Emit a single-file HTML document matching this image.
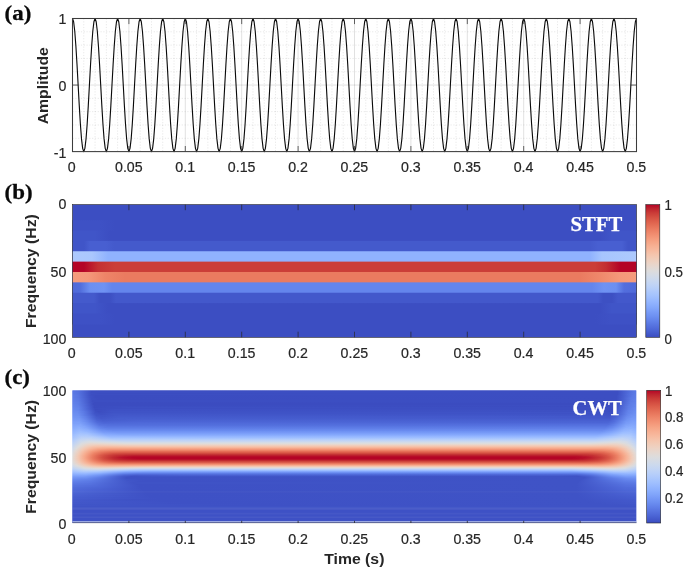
<!DOCTYPE html>
<html><head><meta charset="utf-8"><title>Signal, STFT and CWT</title>
<style>html,body{margin:0;padding:0;background:#fff}svg{display:block}</style></head>
<body><svg width="685" height="570" viewBox="0 0 685 570">
<defs><linearGradient id="b2" gradientUnits="userSpaceOnUse" x1="72.5" x2="636.5" y1="0" y2="0"><stop offset="0.0000" stop-color="#3e51c5"/><stop offset="0.0488" stop-color="#3e51c5"/><stop offset="0.0754" stop-color="#3c4ec2"/><stop offset="0.9264" stop-color="#3c4ec2"/><stop offset="0.9530" stop-color="#3e51c5"/><stop offset="0.9991" stop-color="#3e51c5"/></linearGradient><linearGradient id="b3" gradientUnits="userSpaceOnUse" x1="72.5" x2="636.5" y1="0" y2="0"><stop offset="0.0000" stop-color="#4055c8"/><stop offset="0.0399" stop-color="#4055c8"/><stop offset="0.0665" stop-color="#3c4ec2"/><stop offset="0.9353" stop-color="#3c4ec2"/><stop offset="0.9566" stop-color="#4055c8"/><stop offset="0.9991" stop-color="#4055c8"/></linearGradient><linearGradient id="b4" gradientUnits="userSpaceOnUse" x1="72.5" x2="636.5" y1="0" y2="0"><stop offset="0.0000" stop-color="#4055c8"/><stop offset="0.0204" stop-color="#4055c8"/><stop offset="0.0310" stop-color="#485fd1"/><stop offset="0.0594" stop-color="#485fd1"/><stop offset="0.0736" stop-color="#445acc"/><stop offset="0.9176" stop-color="#445acc"/><stop offset="0.9317" stop-color="#485fd1"/><stop offset="0.9743" stop-color="#485fd1"/><stop offset="0.9849" stop-color="#4055c8"/><stop offset="0.9991" stop-color="#4055c8"/></linearGradient><linearGradient id="b5" gradientUnits="userSpaceOnUse" x1="72.5" x2="636.5" y1="0" y2="0"><stop offset="0.0000" stop-color="#adc9fd"/><stop offset="0.0346" stop-color="#aac7fd"/><stop offset="0.0629" stop-color="#90b2fe"/><stop offset="0.9176" stop-color="#90b2fe"/><stop offset="0.9388" stop-color="#a7c5fe"/><stop offset="0.9991" stop-color="#adc9fd"/></linearGradient><linearGradient id="b6" gradientUnits="userSpaceOnUse" x1="72.5" x2="636.5" y1="0" y2="0"><stop offset="0.0000" stop-color="#b40426"/><stop offset="0.0204" stop-color="#b40426"/><stop offset="0.0452" stop-color="#c43032"/><stop offset="0.0754" stop-color="#cb3e38"/><stop offset="0.9264" stop-color="#cb3e38"/><stop offset="0.9459" stop-color="#c32e31"/><stop offset="0.9707" stop-color="#b40426"/><stop offset="0.9991" stop-color="#b40426"/></linearGradient><linearGradient id="b7" gradientUnits="userSpaceOnUse" x1="72.5" x2="636.5" y1="0" y2="0"><stop offset="0.0000" stop-color="#f59c7d"/><stop offset="0.0275" stop-color="#f4987a"/><stop offset="0.0576" stop-color="#ee8468"/><stop offset="0.0931" stop-color="#ea7b60"/><stop offset="0.8998" stop-color="#ea7b60"/><stop offset="0.9353" stop-color="#ef886b"/><stop offset="0.9707" stop-color="#f4987a"/><stop offset="0.9991" stop-color="#f59c7d"/></linearGradient><linearGradient id="b8" gradientUnits="userSpaceOnUse" x1="72.5" x2="636.5" y1="0" y2="0"><stop offset="0.0000" stop-color="#4f69d9"/><stop offset="0.0133" stop-color="#516ddb"/><stop offset="0.0310" stop-color="#6c8ff1"/><stop offset="0.0559" stop-color="#6f92f3"/><stop offset="0.0700" stop-color="#6485ec"/><stop offset="0.9211" stop-color="#6485ec"/><stop offset="0.9424" stop-color="#6f92f3"/><stop offset="0.9637" stop-color="#6c8ff1"/><stop offset="0.9778" stop-color="#536edd"/><stop offset="0.9991" stop-color="#4f69d9"/></linearGradient><linearGradient id="b9" gradientUnits="userSpaceOnUse" x1="72.5" x2="636.5" y1="0" y2="0"><stop offset="0.0000" stop-color="#445acc"/><stop offset="0.0381" stop-color="#445acc"/><stop offset="0.0488" stop-color="#3d50c3"/><stop offset="0.0665" stop-color="#3d50c3"/><stop offset="0.0771" stop-color="#4358cb"/><stop offset="0.9317" stop-color="#4358cb"/><stop offset="0.9406" stop-color="#3d50c3"/><stop offset="0.9566" stop-color="#3d50c3"/><stop offset="0.9672" stop-color="#4358cb"/><stop offset="0.9991" stop-color="#4358cb"/></linearGradient><linearGradient id="b10" gradientUnits="userSpaceOnUse" x1="72.5" x2="636.5" y1="0" y2="0"><stop offset="0.0000" stop-color="#4055c8"/><stop offset="0.0399" stop-color="#4055c8"/><stop offset="0.0629" stop-color="#3c4ec2"/><stop offset="0.9353" stop-color="#3c4ec2"/><stop offset="0.9566" stop-color="#4055c8"/><stop offset="0.9991" stop-color="#4055c8"/></linearGradient><linearGradient id="b11" gradientUnits="userSpaceOnUse" x1="72.5" x2="636.5" y1="0" y2="0"><stop offset="0.0000" stop-color="#3e51c5"/><stop offset="0.0488" stop-color="#3e51c5"/><stop offset="0.0754" stop-color="#3c4ec2"/><stop offset="0.9264" stop-color="#3c4ec2"/><stop offset="0.9530" stop-color="#3e51c5"/><stop offset="0.9991" stop-color="#3e51c5"/></linearGradient><linearGradient id="cb" x1="0" x2="0" y1="1" y2="0"><stop offset="0.000" stop-color="#3b4cc0"/><stop offset="0.031" stop-color="#445acc"/><stop offset="0.062" stop-color="#4e68d8"/><stop offset="0.094" stop-color="#5875e1"/><stop offset="0.125" stop-color="#6282ea"/><stop offset="0.156" stop-color="#6c8ff1"/><stop offset="0.188" stop-color="#779af7"/><stop offset="0.219" stop-color="#82a6fb"/><stop offset="0.250" stop-color="#8db0fe"/><stop offset="0.281" stop-color="#98b9ff"/><stop offset="0.312" stop-color="#a3c2fe"/><stop offset="0.344" stop-color="#aec9fc"/><stop offset="0.375" stop-color="#b9d0f9"/><stop offset="0.406" stop-color="#c3d5f4"/><stop offset="0.438" stop-color="#ccd9ed"/><stop offset="0.469" stop-color="#d5dbe5"/><stop offset="0.500" stop-color="#dddcdc"/><stop offset="0.531" stop-color="#e5d8d1"/><stop offset="0.562" stop-color="#ecd3c5"/><stop offset="0.594" stop-color="#f1ccb8"/><stop offset="0.625" stop-color="#f5c4ac"/><stop offset="0.656" stop-color="#f7ba9f"/><stop offset="0.688" stop-color="#f7b093"/><stop offset="0.719" stop-color="#f6a586"/><stop offset="0.750" stop-color="#f4987a"/><stop offset="0.781" stop-color="#f08b6e"/><stop offset="0.812" stop-color="#eb7d62"/><stop offset="0.844" stop-color="#e46e56"/><stop offset="0.875" stop-color="#dd5f4b"/><stop offset="0.906" stop-color="#d44e41"/><stop offset="0.938" stop-color="#ca3b37"/><stop offset="0.969" stop-color="#be242e"/><stop offset="1.000" stop-color="#b40426"/></linearGradient><linearGradient id="c0" gradientUnits="userSpaceOnUse" x1="72.5" x2="636.5" y1="0" y2="0"><stop offset="0.0000" stop-color="#5a78e4"/><stop offset="0.0089" stop-color="#5572df"/><stop offset="0.0319" stop-color="#3d50c3"/><stop offset="0.0496" stop-color="#3b4cc0"/><stop offset="0.9663" stop-color="#3c4ec2"/><stop offset="0.9787" stop-color="#485fd1"/><stop offset="0.9947" stop-color="#5977e3"/><stop offset="1.0000" stop-color="#5a78e4"/></linearGradient><linearGradient id="c1" gradientUnits="userSpaceOnUse" x1="72.5" x2="636.5" y1="0" y2="0"><stop offset="0.0000" stop-color="#5a78e4"/><stop offset="0.0124" stop-color="#536edd"/><stop offset="0.0337" stop-color="#3c4ec2"/><stop offset="0.9663" stop-color="#3c4ec2"/><stop offset="0.9823" stop-color="#4c66d6"/><stop offset="0.9947" stop-color="#5977e3"/><stop offset="1.0000" stop-color="#5a78e4"/></linearGradient><linearGradient id="c2" gradientUnits="userSpaceOnUse" x1="72.5" x2="636.5" y1="0" y2="0"><stop offset="0.0000" stop-color="#5b7ae5"/><stop offset="0.0106" stop-color="#5572df"/><stop offset="0.0337" stop-color="#3c4ec2"/><stop offset="0.9663" stop-color="#3c4ec2"/><stop offset="0.9840" stop-color="#4f69d9"/><stop offset="0.9947" stop-color="#5977e3"/><stop offset="1.0000" stop-color="#5b7ae5"/></linearGradient><linearGradient id="c3" gradientUnits="userSpaceOnUse" x1="72.5" x2="636.5" y1="0" y2="0"><stop offset="0.0000" stop-color="#5b7ae5"/><stop offset="0.0106" stop-color="#5572df"/><stop offset="0.0319" stop-color="#3d50c3"/><stop offset="0.0496" stop-color="#3b4cc0"/><stop offset="0.9663" stop-color="#3c4ec2"/><stop offset="0.9787" stop-color="#4961d2"/><stop offset="0.9929" stop-color="#5977e3"/><stop offset="1.0000" stop-color="#5b7ae5"/></linearGradient><linearGradient id="c4" gradientUnits="userSpaceOnUse" x1="72.5" x2="636.5" y1="0" y2="0"><stop offset="0.0000" stop-color="#5d7ce6"/><stop offset="0.0106" stop-color="#5673e0"/><stop offset="0.0337" stop-color="#3c4ec2"/><stop offset="0.9663" stop-color="#3c4ec2"/><stop offset="0.9840" stop-color="#506bda"/><stop offset="0.9947" stop-color="#5a78e4"/><stop offset="1.0000" stop-color="#5d7ce6"/></linearGradient><linearGradient id="c5" gradientUnits="userSpaceOnUse" x1="72.5" x2="636.5" y1="0" y2="0"><stop offset="0.0000" stop-color="#5d7ce6"/><stop offset="0.0089" stop-color="#5977e3"/><stop offset="0.0319" stop-color="#3d50c3"/><stop offset="0.0408" stop-color="#3b4cc0"/><stop offset="0.9645" stop-color="#3c4ec2"/><stop offset="0.9752" stop-color="#455cce"/><stop offset="0.9929" stop-color="#5a78e4"/><stop offset="1.0000" stop-color="#5d7ce6"/></linearGradient><linearGradient id="c6" gradientUnits="userSpaceOnUse" x1="72.5" x2="636.5" y1="0" y2="0"><stop offset="0.0000" stop-color="#5e7de7"/><stop offset="0.0106" stop-color="#5875e1"/><stop offset="0.0319" stop-color="#3e51c5"/><stop offset="0.0408" stop-color="#3b4cc0"/><stop offset="0.9645" stop-color="#3c4ec2"/><stop offset="0.9770" stop-color="#485fd1"/><stop offset="0.9929" stop-color="#5a78e4"/><stop offset="1.0000" stop-color="#5e7de7"/></linearGradient><linearGradient id="c7" gradientUnits="userSpaceOnUse" x1="72.5" x2="636.5" y1="0" y2="0"><stop offset="0.0000" stop-color="#5e7de7"/><stop offset="0.0106" stop-color="#5875e1"/><stop offset="0.0319" stop-color="#3e51c5"/><stop offset="0.0408" stop-color="#3b4cc0"/><stop offset="0.9645" stop-color="#3c4ec2"/><stop offset="0.9734" stop-color="#445acc"/><stop offset="0.9911" stop-color="#5a78e4"/><stop offset="1.0000" stop-color="#5e7de7"/></linearGradient><linearGradient id="c8" gradientUnits="userSpaceOnUse" x1="72.5" x2="636.5" y1="0" y2="0"><stop offset="0.0000" stop-color="#5f7fe8"/><stop offset="0.0106" stop-color="#5977e3"/><stop offset="0.0337" stop-color="#3d50c3"/><stop offset="0.0461" stop-color="#3b4cc0"/><stop offset="0.9645" stop-color="#3c4ec2"/><stop offset="0.9770" stop-color="#4961d2"/><stop offset="0.9894" stop-color="#5977e3"/><stop offset="1.0000" stop-color="#5f7fe8"/></linearGradient><linearGradient id="c9" gradientUnits="userSpaceOnUse" x1="72.5" x2="636.5" y1="0" y2="0"><stop offset="0.0000" stop-color="#5f7fe8"/><stop offset="0.0106" stop-color="#5a78e4"/><stop offset="0.0337" stop-color="#3d50c3"/><stop offset="0.0461" stop-color="#3b4cc0"/><stop offset="0.9645" stop-color="#3c4ec2"/><stop offset="0.9770" stop-color="#4961d2"/><stop offset="0.9929" stop-color="#5d7ce6"/><stop offset="1.0000" stop-color="#5f7fe8"/></linearGradient><linearGradient id="c10" gradientUnits="userSpaceOnUse" x1="72.5" x2="636.5" y1="0" y2="0"><stop offset="0.0000" stop-color="#6180e9"/><stop offset="0.0106" stop-color="#5a78e4"/><stop offset="0.0355" stop-color="#3c4ec2"/><stop offset="0.9645" stop-color="#3c4ec2"/><stop offset="0.9911" stop-color="#5d7ce6"/><stop offset="1.0000" stop-color="#6180e9"/></linearGradient><linearGradient id="c11" gradientUnits="userSpaceOnUse" x1="72.5" x2="636.5" y1="0" y2="0"><stop offset="0.0000" stop-color="#6180e9"/><stop offset="0.0106" stop-color="#5b7ae5"/><stop offset="0.0355" stop-color="#3c4ec2"/><stop offset="0.9645" stop-color="#3c4ec2"/><stop offset="0.9894" stop-color="#5b7ae5"/><stop offset="1.0000" stop-color="#6180e9"/></linearGradient><linearGradient id="c12" gradientUnits="userSpaceOnUse" x1="72.5" x2="636.5" y1="0" y2="0"><stop offset="0.0000" stop-color="#6282ea"/><stop offset="0.0106" stop-color="#5d7ce6"/><stop offset="0.0301" stop-color="#4257c9"/><stop offset="0.0390" stop-color="#3b4cc0"/><stop offset="0.9645" stop-color="#3c4ec2"/><stop offset="0.9894" stop-color="#5d7ce6"/><stop offset="1.0000" stop-color="#6282ea"/></linearGradient><linearGradient id="c13" gradientUnits="userSpaceOnUse" x1="72.5" x2="636.5" y1="0" y2="0"><stop offset="0.0000" stop-color="#6282ea"/><stop offset="0.0106" stop-color="#5d7ce6"/><stop offset="0.0372" stop-color="#3b4cc0"/><stop offset="0.9628" stop-color="#3b4cc0"/><stop offset="0.9911" stop-color="#5f7fe8"/><stop offset="1.0000" stop-color="#6282ea"/></linearGradient><linearGradient id="c14" gradientUnits="userSpaceOnUse" x1="72.5" x2="636.5" y1="0" y2="0"><stop offset="0.0000" stop-color="#6384eb"/><stop offset="0.0089" stop-color="#5f7fe8"/><stop offset="0.0213" stop-color="#506bda"/><stop offset="0.0372" stop-color="#3b4cc0"/><stop offset="0.9628" stop-color="#3b4cc0"/><stop offset="0.9876" stop-color="#5d7ce6"/><stop offset="0.9982" stop-color="#6384eb"/><stop offset="1.0000" stop-color="#6384eb"/></linearGradient><linearGradient id="c15" gradientUnits="userSpaceOnUse" x1="72.5" x2="636.5" y1="0" y2="0"><stop offset="0.0000" stop-color="#6485ec"/><stop offset="0.0106" stop-color="#5f7fe8"/><stop offset="0.0301" stop-color="#445acc"/><stop offset="0.0390" stop-color="#3b4cc0"/><stop offset="0.9628" stop-color="#3c4ec2"/><stop offset="0.9876" stop-color="#5d7ce6"/><stop offset="0.9982" stop-color="#6485ec"/><stop offset="1.0000" stop-color="#6485ec"/></linearGradient><linearGradient id="c16" gradientUnits="userSpaceOnUse" x1="72.5" x2="636.5" y1="0" y2="0"><stop offset="0.0000" stop-color="#6485ec"/><stop offset="0.0106" stop-color="#6180e9"/><stop offset="0.0284" stop-color="#485fd1"/><stop offset="0.0390" stop-color="#3b4cc0"/><stop offset="0.0762" stop-color="#3c4ec2"/><stop offset="0.9486" stop-color="#3b4cc0"/><stop offset="0.9628" stop-color="#3c4ec2"/><stop offset="0.9858" stop-color="#5d7ce6"/><stop offset="0.9982" stop-color="#6485ec"/><stop offset="1.0000" stop-color="#6485ec"/></linearGradient><linearGradient id="c17" gradientUnits="userSpaceOnUse" x1="72.5" x2="636.5" y1="0" y2="0"><stop offset="0.0000" stop-color="#6687ed"/><stop offset="0.0106" stop-color="#6282ea"/><stop offset="0.0266" stop-color="#4b64d5"/><stop offset="0.0390" stop-color="#3b4cc0"/><stop offset="0.1011" stop-color="#3d50c3"/><stop offset="0.9486" stop-color="#3c4ec2"/><stop offset="0.9610" stop-color="#3b4cc0"/><stop offset="0.9858" stop-color="#5d7ce6"/><stop offset="0.9965" stop-color="#6687ed"/><stop offset="1.0000" stop-color="#6687ed"/></linearGradient><linearGradient id="c18" gradientUnits="userSpaceOnUse" x1="72.5" x2="636.5" y1="0" y2="0"><stop offset="0.0000" stop-color="#6788ee"/><stop offset="0.0106" stop-color="#6384eb"/><stop offset="0.0266" stop-color="#4b64d5"/><stop offset="0.0390" stop-color="#3c4ec2"/><stop offset="0.0532" stop-color="#3c4ec2"/><stop offset="0.9486" stop-color="#3c4ec2"/><stop offset="0.9610" stop-color="#3c4ec2"/><stop offset="0.9858" stop-color="#5e7de7"/><stop offset="0.9965" stop-color="#6788ee"/><stop offset="1.0000" stop-color="#6788ee"/></linearGradient><linearGradient id="c19" gradientUnits="userSpaceOnUse" x1="72.5" x2="636.5" y1="0" y2="0"><stop offset="0.0000" stop-color="#688aef"/><stop offset="0.0106" stop-color="#6384eb"/><stop offset="0.0266" stop-color="#4c66d6"/><stop offset="0.0408" stop-color="#3b4cc0"/><stop offset="0.0780" stop-color="#3e51c5"/><stop offset="0.9468" stop-color="#3c4ec2"/><stop offset="0.9592" stop-color="#3b4cc0"/><stop offset="0.9858" stop-color="#5f7fe8"/><stop offset="0.9982" stop-color="#688aef"/><stop offset="1.0000" stop-color="#688aef"/></linearGradient><linearGradient id="c20" gradientUnits="userSpaceOnUse" x1="72.5" x2="636.5" y1="0" y2="0"><stop offset="0.0000" stop-color="#6a8bef"/><stop offset="0.0106" stop-color="#6485ec"/><stop offset="0.0266" stop-color="#4f69d9"/><stop offset="0.0408" stop-color="#3c4ec2"/><stop offset="0.0514" stop-color="#3c4ec2"/><stop offset="0.0691" stop-color="#3e51c5"/><stop offset="0.9468" stop-color="#3d50c3"/><stop offset="0.9574" stop-color="#3b4cc0"/><stop offset="0.9699" stop-color="#4961d2"/><stop offset="0.9858" stop-color="#6282ea"/><stop offset="0.9982" stop-color="#6a8bef"/><stop offset="1.0000" stop-color="#6a8bef"/></linearGradient><linearGradient id="c21" gradientUnits="userSpaceOnUse" x1="72.5" x2="636.5" y1="0" y2="0"><stop offset="0.0000" stop-color="#6a8bef"/><stop offset="0.0089" stop-color="#688aef"/><stop offset="0.0213" stop-color="#5977e3"/><stop offset="0.0408" stop-color="#3d50c3"/><stop offset="0.0461" stop-color="#3b4cc0"/><stop offset="0.0674" stop-color="#3f53c6"/><stop offset="0.9450" stop-color="#3d50c3"/><stop offset="0.9557" stop-color="#3b4cc0"/><stop offset="0.9645" stop-color="#4358cb"/><stop offset="0.9858" stop-color="#6384eb"/><stop offset="0.9982" stop-color="#6b8df0"/><stop offset="1.0000" stop-color="#6a8bef"/></linearGradient><linearGradient id="c22" gradientUnits="userSpaceOnUse" x1="72.5" x2="636.5" y1="0" y2="0"><stop offset="0.0000" stop-color="#6b8df0"/><stop offset="0.0089" stop-color="#6a8bef"/><stop offset="0.0230" stop-color="#5875e1"/><stop offset="0.0408" stop-color="#3e51c5"/><stop offset="0.0479" stop-color="#3c4ec2"/><stop offset="0.0745" stop-color="#3f53c6"/><stop offset="0.9415" stop-color="#3f53c6"/><stop offset="0.9557" stop-color="#3c4ec2"/><stop offset="0.9645" stop-color="#445acc"/><stop offset="0.9840" stop-color="#6282ea"/><stop offset="0.9965" stop-color="#6b8df0"/><stop offset="1.0000" stop-color="#6b8df0"/></linearGradient><linearGradient id="c23" gradientUnits="userSpaceOnUse" x1="72.5" x2="636.5" y1="0" y2="0"><stop offset="0.0000" stop-color="#6c8ff1"/><stop offset="0.0089" stop-color="#6b8df0"/><stop offset="0.0195" stop-color="#5e7de7"/><stop offset="0.0390" stop-color="#4055c8"/><stop offset="0.0479" stop-color="#3d50c3"/><stop offset="0.0709" stop-color="#4055c8"/><stop offset="0.9450" stop-color="#3e51c5"/><stop offset="0.9557" stop-color="#3d50c3"/><stop offset="0.9645" stop-color="#455cce"/><stop offset="0.9840" stop-color="#6384eb"/><stop offset="0.9965" stop-color="#6c8ff1"/><stop offset="1.0000" stop-color="#6c8ff1"/></linearGradient><linearGradient id="c24" gradientUnits="userSpaceOnUse" x1="72.5" x2="636.5" y1="0" y2="0"><stop offset="0.0000" stop-color="#6e90f2"/><stop offset="0.0106" stop-color="#6b8df0"/><stop offset="0.0230" stop-color="#5a78e4"/><stop offset="0.0408" stop-color="#4055c8"/><stop offset="0.0514" stop-color="#3e51c5"/><stop offset="0.0745" stop-color="#4257c9"/><stop offset="0.9433" stop-color="#3f53c6"/><stop offset="0.9557" stop-color="#3e51c5"/><stop offset="0.9663" stop-color="#4961d2"/><stop offset="0.9858" stop-color="#6788ee"/><stop offset="0.9982" stop-color="#6f92f3"/><stop offset="1.0000" stop-color="#6e90f2"/></linearGradient><linearGradient id="c25" gradientUnits="userSpaceOnUse" x1="72.5" x2="636.5" y1="0" y2="0"><stop offset="0.0000" stop-color="#6f92f3"/><stop offset="0.0106" stop-color="#6c8ff1"/><stop offset="0.0301" stop-color="#516ddb"/><stop offset="0.0426" stop-color="#4055c8"/><stop offset="0.0567" stop-color="#4055c8"/><stop offset="0.0869" stop-color="#4358cb"/><stop offset="0.9415" stop-color="#4055c8"/><stop offset="0.9539" stop-color="#3f53c6"/><stop offset="0.9628" stop-color="#465ecf"/><stop offset="0.9823" stop-color="#6485ec"/><stop offset="0.9911" stop-color="#6e90f2"/><stop offset="1.0000" stop-color="#6f92f3"/></linearGradient><linearGradient id="c26" gradientUnits="userSpaceOnUse" x1="72.5" x2="636.5" y1="0" y2="0"><stop offset="0.0000" stop-color="#7093f3"/><stop offset="0.0106" stop-color="#6f92f3"/><stop offset="0.0230" stop-color="#5f7fe8"/><stop offset="0.0426" stop-color="#4358cb"/><stop offset="0.0532" stop-color="#4055c8"/><stop offset="0.0798" stop-color="#445acc"/><stop offset="0.9397" stop-color="#4358cb"/><stop offset="0.9539" stop-color="#4055c8"/><stop offset="0.9628" stop-color="#4961d2"/><stop offset="0.9840" stop-color="#6a8bef"/><stop offset="0.9965" stop-color="#7295f4"/><stop offset="1.0000" stop-color="#7093f3"/></linearGradient><linearGradient id="c27" gradientUnits="userSpaceOnUse" x1="72.5" x2="636.5" y1="0" y2="0"><stop offset="0.0000" stop-color="#7295f4"/><stop offset="0.0106" stop-color="#7093f3"/><stop offset="0.0230" stop-color="#6180e9"/><stop offset="0.0408" stop-color="#465ecf"/><stop offset="0.0496" stop-color="#4257c9"/><stop offset="0.0869" stop-color="#455cce"/><stop offset="0.9397" stop-color="#4358cb"/><stop offset="0.9521" stop-color="#4257c9"/><stop offset="0.9628" stop-color="#4a63d3"/><stop offset="0.9823" stop-color="#6a8bef"/><stop offset="0.9947" stop-color="#7396f5"/><stop offset="1.0000" stop-color="#7295f4"/></linearGradient><linearGradient id="c28" gradientUnits="userSpaceOnUse" x1="72.5" x2="636.5" y1="0" y2="0"><stop offset="0.0000" stop-color="#7597f6"/><stop offset="0.0124" stop-color="#7295f4"/><stop offset="0.0248" stop-color="#6180e9"/><stop offset="0.0426" stop-color="#465ecf"/><stop offset="0.0514" stop-color="#4358cb"/><stop offset="0.0816" stop-color="#465ecf"/><stop offset="0.9397" stop-color="#445acc"/><stop offset="0.9539" stop-color="#445acc"/><stop offset="0.9645" stop-color="#4f69d9"/><stop offset="0.9823" stop-color="#6b8df0"/><stop offset="0.9911" stop-color="#7597f6"/><stop offset="1.0000" stop-color="#7597f6"/></linearGradient><linearGradient id="c29" gradientUnits="userSpaceOnUse" x1="72.5" x2="636.5" y1="0" y2="0"><stop offset="0.0000" stop-color="#7699f6"/><stop offset="0.0124" stop-color="#7597f6"/><stop offset="0.0248" stop-color="#6384eb"/><stop offset="0.0426" stop-color="#4961d2"/><stop offset="0.0514" stop-color="#455cce"/><stop offset="0.1028" stop-color="#485fd1"/><stop offset="0.9397" stop-color="#465ecf"/><stop offset="0.9539" stop-color="#465ecf"/><stop offset="0.9645" stop-color="#516ddb"/><stop offset="0.9840" stop-color="#7093f3"/><stop offset="0.9947" stop-color="#779af7"/><stop offset="1.0000" stop-color="#7699f6"/></linearGradient><linearGradient id="c30" gradientUnits="userSpaceOnUse" x1="72.5" x2="636.5" y1="0" y2="0"><stop offset="0.0000" stop-color="#779af7"/><stop offset="0.0124" stop-color="#7699f6"/><stop offset="0.0230" stop-color="#6a8bef"/><stop offset="0.0443" stop-color="#4a63d3"/><stop offset="0.0550" stop-color="#465ecf"/><stop offset="0.1259" stop-color="#4a63d3"/><stop offset="0.9362" stop-color="#485fd1"/><stop offset="0.9521" stop-color="#485fd1"/><stop offset="0.9663" stop-color="#5875e1"/><stop offset="0.9823" stop-color="#7093f3"/><stop offset="0.9929" stop-color="#799cf8"/><stop offset="1.0000" stop-color="#779af7"/></linearGradient><linearGradient id="c31" gradientUnits="userSpaceOnUse" x1="72.5" x2="636.5" y1="0" y2="0"><stop offset="0.0000" stop-color="#7a9df8"/><stop offset="0.0124" stop-color="#799cf8"/><stop offset="0.0266" stop-color="#6687ed"/><stop offset="0.0426" stop-color="#4f69d9"/><stop offset="0.0532" stop-color="#4961d2"/><stop offset="0.1117" stop-color="#4b64d5"/><stop offset="0.9397" stop-color="#4a63d3"/><stop offset="0.9504" stop-color="#4a63d3"/><stop offset="0.9610" stop-color="#536edd"/><stop offset="0.9805" stop-color="#7295f4"/><stop offset="0.9929" stop-color="#7b9ff9"/><stop offset="1.0000" stop-color="#7a9df8"/></linearGradient><linearGradient id="c32" gradientUnits="userSpaceOnUse" x1="72.5" x2="636.5" y1="0" y2="0"><stop offset="0.0000" stop-color="#7b9ff9"/><stop offset="0.0106" stop-color="#7da0f9"/><stop offset="0.0213" stop-color="#7295f4"/><stop offset="0.0443" stop-color="#506bda"/><stop offset="0.0567" stop-color="#4b64d5"/><stop offset="0.1152" stop-color="#4e68d8"/><stop offset="0.9379" stop-color="#4b64d5"/><stop offset="0.9504" stop-color="#4c66d6"/><stop offset="0.9610" stop-color="#5673e0"/><stop offset="0.9823" stop-color="#779af7"/><stop offset="0.9947" stop-color="#7ea1fa"/><stop offset="1.0000" stop-color="#7b9ff9"/></linearGradient><linearGradient id="c33" gradientUnits="userSpaceOnUse" x1="72.5" x2="636.5" y1="0" y2="0"><stop offset="0.0000" stop-color="#7da0f9"/><stop offset="0.0142" stop-color="#7da0f9"/><stop offset="0.0284" stop-color="#6b8df0"/><stop offset="0.0443" stop-color="#5470de"/><stop offset="0.0550" stop-color="#4e68d8"/><stop offset="0.1312" stop-color="#506bda"/><stop offset="0.9362" stop-color="#4f69d9"/><stop offset="0.9486" stop-color="#4f69d9"/><stop offset="0.9592" stop-color="#5875e1"/><stop offset="0.9805" stop-color="#779af7"/><stop offset="0.9929" stop-color="#80a3fa"/><stop offset="1.0000" stop-color="#7da0f9"/></linearGradient><linearGradient id="c34" gradientUnits="userSpaceOnUse" x1="72.5" x2="636.5" y1="0" y2="0"><stop offset="0.0000" stop-color="#80a3fa"/><stop offset="0.0142" stop-color="#81a4fb"/><stop offset="0.0284" stop-color="#6e90f2"/><stop offset="0.0479" stop-color="#5470de"/><stop offset="0.0674" stop-color="#516ddb"/><stop offset="0.9504" stop-color="#536edd"/><stop offset="0.9645" stop-color="#6384eb"/><stop offset="0.9805" stop-color="#7b9ff9"/><stop offset="0.9911" stop-color="#82a6fb"/><stop offset="1.0000" stop-color="#80a3fa"/></linearGradient><linearGradient id="c35" gradientUnits="userSpaceOnUse" x1="72.5" x2="636.5" y1="0" y2="0"><stop offset="0.0000" stop-color="#82a6fb"/><stop offset="0.0142" stop-color="#84a7fc"/><stop offset="0.0284" stop-color="#7396f5"/><stop offset="0.0479" stop-color="#5875e1"/><stop offset="0.0638" stop-color="#5470de"/><stop offset="0.9468" stop-color="#5572df"/><stop offset="0.9592" stop-color="#5f7fe8"/><stop offset="0.9805" stop-color="#80a3fa"/><stop offset="0.9929" stop-color="#85a8fc"/><stop offset="1.0000" stop-color="#82a6fb"/></linearGradient><linearGradient id="c36" gradientUnits="userSpaceOnUse" x1="72.5" x2="636.5" y1="0" y2="0"><stop offset="0.0000" stop-color="#84a7fc"/><stop offset="0.0106" stop-color="#88abfd"/><stop offset="0.0213" stop-color="#81a4fb"/><stop offset="0.0479" stop-color="#5d7ce6"/><stop offset="0.0621" stop-color="#5875e1"/><stop offset="0.9468" stop-color="#5977e3"/><stop offset="0.9610" stop-color="#6788ee"/><stop offset="0.9823" stop-color="#85a8fc"/><stop offset="0.9947" stop-color="#88abfd"/><stop offset="1.0000" stop-color="#84a7fc"/></linearGradient><linearGradient id="c37" gradientUnits="userSpaceOnUse" x1="72.5" x2="636.5" y1="0" y2="0"><stop offset="0.0000" stop-color="#86a9fc"/><stop offset="0.0124" stop-color="#8caffe"/><stop offset="0.0266" stop-color="#7ea1fa"/><stop offset="0.0461" stop-color="#6384eb"/><stop offset="0.0585" stop-color="#5b7ae5"/><stop offset="0.9450" stop-color="#5d7ce6"/><stop offset="0.9574" stop-color="#6788ee"/><stop offset="0.9787" stop-color="#85a8fc"/><stop offset="0.9894" stop-color="#8caffe"/><stop offset="1.0000" stop-color="#86a9fc"/></linearGradient><linearGradient id="c38" gradientUnits="userSpaceOnUse" x1="72.5" x2="636.5" y1="0" y2="0"><stop offset="0.0000" stop-color="#89acfd"/><stop offset="0.0124" stop-color="#8fb1fe"/><stop offset="0.0248" stop-color="#85a8fc"/><stop offset="0.0496" stop-color="#6485ec"/><stop offset="0.0656" stop-color="#5f7fe8"/><stop offset="0.9433" stop-color="#6180e9"/><stop offset="0.9574" stop-color="#6c8ff1"/><stop offset="0.9805" stop-color="#8caffe"/><stop offset="0.9947" stop-color="#8db0fe"/><stop offset="1.0000" stop-color="#89acfd"/></linearGradient><linearGradient id="c39" gradientUnits="userSpaceOnUse" x1="72.5" x2="636.5" y1="0" y2="0"><stop offset="0.0000" stop-color="#8caffe"/><stop offset="0.0124" stop-color="#93b5fe"/><stop offset="0.0266" stop-color="#89acfd"/><stop offset="0.0479" stop-color="#6c8ff1"/><stop offset="0.0621" stop-color="#6485ec"/><stop offset="0.9433" stop-color="#6687ed"/><stop offset="0.9592" stop-color="#7597f6"/><stop offset="0.9787" stop-color="#8fb1fe"/><stop offset="0.9911" stop-color="#93b5fe"/><stop offset="1.0000" stop-color="#8caffe"/></linearGradient><linearGradient id="c40" gradientUnits="userSpaceOnUse" x1="72.5" x2="636.5" y1="0" y2="0"><stop offset="0.0000" stop-color="#8fb1fe"/><stop offset="0.0124" stop-color="#97b8ff"/><stop offset="0.0284" stop-color="#8caffe"/><stop offset="0.0514" stop-color="#6f92f3"/><stop offset="0.0727" stop-color="#688aef"/><stop offset="0.9379" stop-color="#6a8bef"/><stop offset="0.9557" stop-color="#7699f6"/><stop offset="0.9770" stop-color="#92b4fe"/><stop offset="0.9894" stop-color="#97b8ff"/><stop offset="1.0000" stop-color="#8fb1fe"/></linearGradient><linearGradient id="c41" gradientUnits="userSpaceOnUse" x1="72.5" x2="636.5" y1="0" y2="0"><stop offset="0.0000" stop-color="#92b4fe"/><stop offset="0.0142" stop-color="#9bbcff"/><stop offset="0.0301" stop-color="#90b2fe"/><stop offset="0.0532" stop-color="#7597f6"/><stop offset="0.0709" stop-color="#6f92f3"/><stop offset="0.9397" stop-color="#7093f3"/><stop offset="0.9574" stop-color="#80a3fa"/><stop offset="0.9787" stop-color="#98b9ff"/><stop offset="0.9911" stop-color="#9abbff"/><stop offset="1.0000" stop-color="#92b4fe"/></linearGradient><linearGradient id="c42" gradientUnits="userSpaceOnUse" x1="72.5" x2="636.5" y1="0" y2="0"><stop offset="0.0000" stop-color="#94b6ff"/><stop offset="0.0124" stop-color="#9fbfff"/><stop offset="0.0248" stop-color="#9bbcff"/><stop offset="0.0550" stop-color="#7a9df8"/><stop offset="0.0798" stop-color="#7597f6"/><stop offset="0.9362" stop-color="#7699f6"/><stop offset="0.9539" stop-color="#82a6fb"/><stop offset="0.9752" stop-color="#9bbcff"/><stop offset="0.9876" stop-color="#9fbfff"/><stop offset="1.0000" stop-color="#94b6ff"/></linearGradient><linearGradient id="c43" gradientUnits="userSpaceOnUse" x1="72.5" x2="636.5" y1="0" y2="0"><stop offset="0.0000" stop-color="#97b8ff"/><stop offset="0.0142" stop-color="#a5c3fe"/><stop offset="0.0284" stop-color="#9fbfff"/><stop offset="0.0567" stop-color="#81a4fb"/><stop offset="0.0816" stop-color="#7b9ff9"/><stop offset="0.9344" stop-color="#7da0f9"/><stop offset="0.9557" stop-color="#8caffe"/><stop offset="0.9770" stop-color="#a2c1ff"/><stop offset="0.9911" stop-color="#a2c1ff"/><stop offset="1.0000" stop-color="#97b8ff"/></linearGradient><linearGradient id="c44" gradientUnits="userSpaceOnUse" x1="72.5" x2="636.5" y1="0" y2="0"><stop offset="0.0000" stop-color="#9bbcff"/><stop offset="0.0124" stop-color="#a9c6fd"/><stop offset="0.0266" stop-color="#a7c5fe"/><stop offset="0.0585" stop-color="#88abfd"/><stop offset="0.0869" stop-color="#82a6fb"/><stop offset="0.9309" stop-color="#84a7fc"/><stop offset="0.9504" stop-color="#8fb1fe"/><stop offset="0.9734" stop-color="#a7c5fe"/><stop offset="0.9876" stop-color="#a9c6fd"/><stop offset="1.0000" stop-color="#9bbcff"/></linearGradient><linearGradient id="c45" gradientUnits="userSpaceOnUse" x1="72.5" x2="636.5" y1="0" y2="0"><stop offset="0.0000" stop-color="#9ebeff"/><stop offset="0.0124" stop-color="#adc9fd"/><stop offset="0.0266" stop-color="#aec9fc"/><stop offset="0.0621" stop-color="#8fb1fe"/><stop offset="0.1064" stop-color="#8badfd"/><stop offset="0.9291" stop-color="#8caffe"/><stop offset="0.9504" stop-color="#98b9ff"/><stop offset="0.9752" stop-color="#aec9fc"/><stop offset="0.9876" stop-color="#adc9fd"/><stop offset="1.0000" stop-color="#9ebeff"/></linearGradient><linearGradient id="c46" gradientUnits="userSpaceOnUse" x1="72.5" x2="636.5" y1="0" y2="0"><stop offset="0.0000" stop-color="#a2c1ff"/><stop offset="0.0160" stop-color="#b5cdfa"/><stop offset="0.0337" stop-color="#b1cbfc"/><stop offset="0.0656" stop-color="#97b8ff"/><stop offset="0.1543" stop-color="#94b6ff"/><stop offset="0.9309" stop-color="#96b7ff"/><stop offset="0.9628" stop-color="#adc9fd"/><stop offset="0.9770" stop-color="#b5cdfa"/><stop offset="0.9894" stop-color="#b1cbfc"/><stop offset="1.0000" stop-color="#a2c1ff"/></linearGradient><linearGradient id="c47" gradientUnits="userSpaceOnUse" x1="72.5" x2="636.5" y1="0" y2="0"><stop offset="0.0000" stop-color="#a5c3fe"/><stop offset="0.0160" stop-color="#bad0f8"/><stop offset="0.0337" stop-color="#b9d0f9"/><stop offset="0.0691" stop-color="#9fbfff"/><stop offset="0.2855" stop-color="#9dbdff"/><stop offset="0.9255" stop-color="#9ebeff"/><stop offset="0.9521" stop-color="#adc9fd"/><stop offset="0.9734" stop-color="#bbd1f8"/><stop offset="0.9876" stop-color="#b7cff9"/><stop offset="1.0000" stop-color="#a5c3fe"/></linearGradient><linearGradient id="c48" gradientUnits="userSpaceOnUse" x1="72.5" x2="636.5" y1="0" y2="0"><stop offset="0.0000" stop-color="#a9c6fd"/><stop offset="0.0160" stop-color="#bfd3f6"/><stop offset="0.0319" stop-color="#c1d4f4"/><stop offset="0.0691" stop-color="#aac7fd"/><stop offset="0.2145" stop-color="#a7c5fe"/><stop offset="0.9273" stop-color="#a9c6fd"/><stop offset="0.9592" stop-color="#bcd2f7"/><stop offset="0.9752" stop-color="#c3d5f4"/><stop offset="0.9894" stop-color="#bad0f8"/><stop offset="1.0000" stop-color="#a9c6fd"/></linearGradient><linearGradient id="c49" gradientUnits="userSpaceOnUse" x1="72.5" x2="636.5" y1="0" y2="0"><stop offset="0.0000" stop-color="#adc9fd"/><stop offset="0.0142" stop-color="#c3d5f4"/><stop offset="0.0284" stop-color="#c9d7f0"/><stop offset="0.0532" stop-color="#bed2f6"/><stop offset="0.0762" stop-color="#b3cdfb"/><stop offset="0.9255" stop-color="#b3cdfb"/><stop offset="0.9699" stop-color="#c9d7f0"/><stop offset="0.9840" stop-color="#c4d5f3"/><stop offset="0.9982" stop-color="#b1cbfc"/><stop offset="1.0000" stop-color="#adc9fd"/></linearGradient><linearGradient id="c50" gradientUnits="userSpaceOnUse" x1="72.5" x2="636.5" y1="0" y2="0"><stop offset="0.0000" stop-color="#b1cbfc"/><stop offset="0.0142" stop-color="#c7d7f0"/><stop offset="0.0301" stop-color="#cfdaea"/><stop offset="0.0816" stop-color="#bed2f6"/><stop offset="0.9273" stop-color="#bfd3f6"/><stop offset="0.9699" stop-color="#cfdaea"/><stop offset="0.9876" stop-color="#c6d6f1"/><stop offset="1.0000" stop-color="#b1cbfc"/></linearGradient><linearGradient id="c51" gradientUnits="userSpaceOnUse" x1="72.5" x2="636.5" y1="0" y2="0"><stop offset="0.0000" stop-color="#b5cdfa"/><stop offset="0.0142" stop-color="#cdd9ec"/><stop offset="0.0301" stop-color="#d7dce3"/><stop offset="0.0585" stop-color="#cfdaea"/><stop offset="0.0975" stop-color="#c7d7f0"/><stop offset="0.9255" stop-color="#cad8ef"/><stop offset="0.9681" stop-color="#d7dce3"/><stop offset="0.9823" stop-color="#d1dae9"/><stop offset="0.9965" stop-color="#bcd2f7"/><stop offset="1.0000" stop-color="#b5cdfa"/></linearGradient><linearGradient id="c52" gradientUnits="userSpaceOnUse" x1="72.5" x2="636.5" y1="0" y2="0"><stop offset="0.0000" stop-color="#b9d0f9"/><stop offset="0.0160" stop-color="#d4dbe6"/><stop offset="0.0337" stop-color="#dedcdb"/><stop offset="0.0940" stop-color="#d3dbe7"/><stop offset="0.9220" stop-color="#d4dbe6"/><stop offset="0.9663" stop-color="#dedcdb"/><stop offset="0.9840" stop-color="#d4dbe6"/><stop offset="1.0000" stop-color="#b9d0f9"/></linearGradient><linearGradient id="c53" gradientUnits="userSpaceOnUse" x1="72.5" x2="636.5" y1="0" y2="0"><stop offset="0.0000" stop-color="#bcd2f7"/><stop offset="0.0160" stop-color="#d9dce1"/><stop offset="0.0319" stop-color="#e5d8d1"/><stop offset="0.0550" stop-color="#e4d9d2"/><stop offset="0.0922" stop-color="#dddcdc"/><stop offset="0.9149" stop-color="#dddcdc"/><stop offset="0.9628" stop-color="#e6d7cf"/><stop offset="0.9787" stop-color="#dedcdb"/><stop offset="0.9929" stop-color="#cbd8ee"/><stop offset="1.0000" stop-color="#bcd2f7"/></linearGradient><linearGradient id="c54" gradientUnits="userSpaceOnUse" x1="72.5" x2="636.5" y1="0" y2="0"><stop offset="0.0000" stop-color="#c0d4f5"/><stop offset="0.0142" stop-color="#dbdcde"/><stop offset="0.0284" stop-color="#ead5c9"/><stop offset="0.0461" stop-color="#edd2c3"/><stop offset="0.1028" stop-color="#e7d7ce"/><stop offset="0.9184" stop-color="#e8d6cc"/><stop offset="0.9574" stop-color="#edd2c3"/><stop offset="0.9716" stop-color="#ead5c9"/><stop offset="0.9858" stop-color="#dbdcde"/><stop offset="1.0000" stop-color="#c0d4f5"/></linearGradient><linearGradient id="c55" gradientUnits="userSpaceOnUse" x1="72.5" x2="636.5" y1="0" y2="0"><stop offset="0.0000" stop-color="#c4d5f3"/><stop offset="0.0124" stop-color="#dddcdc"/><stop offset="0.0284" stop-color="#eed0c0"/><stop offset="0.0443" stop-color="#f2cab5"/><stop offset="0.1117" stop-color="#efcebd"/><stop offset="0.9202" stop-color="#f1cdba"/><stop offset="0.9557" stop-color="#f2cab5"/><stop offset="0.9716" stop-color="#eed0c0"/><stop offset="0.9876" stop-color="#dddcdc"/><stop offset="1.0000" stop-color="#c4d5f3"/></linearGradient><linearGradient id="c56" gradientUnits="userSpaceOnUse" x1="72.5" x2="636.5" y1="0" y2="0"><stop offset="0.0000" stop-color="#c7d7f0"/><stop offset="0.0106" stop-color="#dedcdb"/><stop offset="0.0248" stop-color="#efcebd"/><stop offset="0.0372" stop-color="#f5c4ac"/><stop offset="0.0603" stop-color="#f6bfa6"/><stop offset="0.1152" stop-color="#f5c4ac"/><stop offset="0.9184" stop-color="#f5c2aa"/><stop offset="0.9486" stop-color="#f6bfa6"/><stop offset="0.9663" stop-color="#f3c7b1"/><stop offset="0.9805" stop-color="#ebd3c6"/><stop offset="0.9911" stop-color="#dadce0"/><stop offset="1.0000" stop-color="#c7d7f0"/></linearGradient><linearGradient id="c57" gradientUnits="userSpaceOnUse" x1="72.5" x2="636.5" y1="0" y2="0"><stop offset="0.0000" stop-color="#cbd8ee"/><stop offset="0.0089" stop-color="#dedcdb"/><stop offset="0.0213" stop-color="#f0cdbb"/><stop offset="0.0355" stop-color="#f6bda2"/><stop offset="0.0532" stop-color="#f7b497"/><stop offset="0.2908" stop-color="#f7b79b"/><stop offset="0.9167" stop-color="#f7b497"/><stop offset="0.9486" stop-color="#f7b497"/><stop offset="0.9645" stop-color="#f6bda2"/><stop offset="0.9823" stop-color="#edd2c3"/><stop offset="0.9929" stop-color="#dbdcde"/><stop offset="1.0000" stop-color="#cbd8ee"/></linearGradient><linearGradient id="c58" gradientUnits="userSpaceOnUse" x1="72.5" x2="636.5" y1="0" y2="0"><stop offset="0.0000" stop-color="#cedaeb"/><stop offset="0.0071" stop-color="#dedcdb"/><stop offset="0.0195" stop-color="#f2cbb7"/><stop offset="0.0301" stop-color="#f7bca1"/><stop offset="0.0443" stop-color="#f7ac8e"/><stop offset="0.0656" stop-color="#f6a586"/><stop offset="0.9450" stop-color="#f7a688"/><stop offset="0.9610" stop-color="#f7b093"/><stop offset="0.9752" stop-color="#f5c2aa"/><stop offset="0.9876" stop-color="#e9d5cb"/><stop offset="0.9947" stop-color="#dadce0"/><stop offset="1.0000" stop-color="#cedaeb"/></linearGradient><linearGradient id="c59" gradientUnits="userSpaceOnUse" x1="72.5" x2="636.5" y1="0" y2="0"><stop offset="0.0000" stop-color="#d1dae9"/><stop offset="0.0071" stop-color="#e1dad6"/><stop offset="0.0177" stop-color="#f2cab5"/><stop offset="0.0319" stop-color="#f7b194"/><stop offset="0.0461" stop-color="#f59f80"/><stop offset="0.0674" stop-color="#f39577"/><stop offset="0.9379" stop-color="#f39577"/><stop offset="0.9557" stop-color="#f5a081"/><stop offset="0.9716" stop-color="#f7b79b"/><stop offset="0.9858" stop-color="#eed0c0"/><stop offset="0.9965" stop-color="#dadce0"/><stop offset="1.0000" stop-color="#d1dae9"/></linearGradient><linearGradient id="c60" gradientUnits="userSpaceOnUse" x1="72.5" x2="636.5" y1="0" y2="0"><stop offset="0.0000" stop-color="#d4dbe6"/><stop offset="0.0053" stop-color="#e1dad6"/><stop offset="0.0177" stop-color="#f4c6af"/><stop offset="0.0319" stop-color="#f7a98b"/><stop offset="0.0496" stop-color="#f18f71"/><stop offset="0.0727" stop-color="#ed8366"/><stop offset="0.9291" stop-color="#ed8366"/><stop offset="0.9521" stop-color="#f29072"/><stop offset="0.9699" stop-color="#f7ac8e"/><stop offset="0.9840" stop-color="#f2c9b4"/><stop offset="0.9947" stop-color="#e1dad6"/><stop offset="1.0000" stop-color="#d4dbe6"/></linearGradient><linearGradient id="c61" gradientUnits="userSpaceOnUse" x1="72.5" x2="636.5" y1="0" y2="0"><stop offset="0.0000" stop-color="#d7dce3"/><stop offset="0.0071" stop-color="#e8d6cc"/><stop offset="0.0177" stop-color="#f5c1a9"/><stop offset="0.0337" stop-color="#f59d7e"/><stop offset="0.0496" stop-color="#ed8366"/><stop offset="0.0656" stop-color="#e7745b"/><stop offset="0.0957" stop-color="#e46e56"/><stop offset="0.9255" stop-color="#e57058"/><stop offset="0.9433" stop-color="#ea7b60"/><stop offset="0.9574" stop-color="#f18d6f"/><stop offset="0.9716" stop-color="#f7a98b"/><stop offset="0.9858" stop-color="#f2cab5"/><stop offset="0.9947" stop-color="#e3d9d3"/><stop offset="1.0000" stop-color="#d7dce3"/></linearGradient><linearGradient id="c62" gradientUnits="userSpaceOnUse" x1="72.5" x2="636.5" y1="0" y2="0"><stop offset="0.0000" stop-color="#d9dce1"/><stop offset="0.0089" stop-color="#edd1c2"/><stop offset="0.0195" stop-color="#f7b99e"/><stop offset="0.0372" stop-color="#f18d6f"/><stop offset="0.0514" stop-color="#e7745b"/><stop offset="0.0656" stop-color="#e0654f"/><stop offset="0.0887" stop-color="#dc5d4a"/><stop offset="0.9184" stop-color="#dc5d4a"/><stop offset="0.9415" stop-color="#e36b54"/><stop offset="0.9592" stop-color="#ee8669"/><stop offset="0.9716" stop-color="#f6a385"/><stop offset="0.9858" stop-color="#f4c6af"/><stop offset="0.9965" stop-color="#e2dad5"/><stop offset="1.0000" stop-color="#d9dce1"/></linearGradient><linearGradient id="c63" gradientUnits="userSpaceOnUse" x1="72.5" x2="636.5" y1="0" y2="0"><stop offset="0.0000" stop-color="#dbdcde"/><stop offset="0.0106" stop-color="#f1ccb8"/><stop offset="0.0230" stop-color="#f7ac8e"/><stop offset="0.0390" stop-color="#ec8165"/><stop offset="0.0567" stop-color="#de614d"/><stop offset="0.0727" stop-color="#d55042"/><stop offset="0.0940" stop-color="#d1493f"/><stop offset="0.9131" stop-color="#d1493f"/><stop offset="0.9344" stop-color="#d85646"/><stop offset="0.9521" stop-color="#e46e56"/><stop offset="0.9663" stop-color="#f18f71"/><stop offset="0.9805" stop-color="#f7b599"/><stop offset="0.9929" stop-color="#ecd3c5"/><stop offset="1.0000" stop-color="#dbdcde"/></linearGradient><linearGradient id="c64" gradientUnits="userSpaceOnUse" x1="72.5" x2="636.5" y1="0" y2="0"><stop offset="0.0000" stop-color="#dddcdc"/><stop offset="0.0106" stop-color="#f2cab5"/><stop offset="0.0213" stop-color="#f7ad90"/><stop offset="0.0372" stop-color="#ec7f63"/><stop offset="0.0550" stop-color="#d95847"/><stop offset="0.0745" stop-color="#cc403a"/><stop offset="0.0993" stop-color="#c73635"/><stop offset="0.2748" stop-color="#c53334"/><stop offset="0.8883" stop-color="#c53334"/><stop offset="0.9131" stop-color="#c83836"/><stop offset="0.9344" stop-color="#d1493f"/><stop offset="0.9504" stop-color="#df634e"/><stop offset="0.9645" stop-color="#ee8468"/><stop offset="0.9787" stop-color="#f7ad90"/><stop offset="0.9894" stop-color="#f2cab5"/><stop offset="1.0000" stop-color="#dddcdc"/></linearGradient><linearGradient id="c65" gradientUnits="userSpaceOnUse" x1="72.5" x2="636.5" y1="0" y2="0"><stop offset="0.0000" stop-color="#dedcdb"/><stop offset="0.0089" stop-color="#f1ccb8"/><stop offset="0.0213" stop-color="#f7aa8c"/><stop offset="0.0355" stop-color="#ec7f63"/><stop offset="0.0496" stop-color="#da5a49"/><stop offset="0.0638" stop-color="#cc403a"/><stop offset="0.0780" stop-color="#c43032"/><stop offset="0.0957" stop-color="#be242e"/><stop offset="0.0993" stop-color="#be242e"/><stop offset="0.1099" stop-color="#bd1f2d"/><stop offset="0.1135" stop-color="#bd1f2d"/><stop offset="0.8883" stop-color="#bd1f2d"/><stop offset="0.8918" stop-color="#bd1f2d"/><stop offset="0.9025" stop-color="#be242e"/><stop offset="0.9060" stop-color="#c0282f"/><stop offset="0.9220" stop-color="#c43032"/><stop offset="0.9450" stop-color="#d55042"/><stop offset="0.9628" stop-color="#e97a5f"/><stop offset="0.9770" stop-color="#f6a586"/><stop offset="0.9894" stop-color="#f3c8b2"/><stop offset="0.9982" stop-color="#e3d9d3"/><stop offset="1.0000" stop-color="#dedcdb"/></linearGradient><linearGradient id="c66" gradientUnits="userSpaceOnUse" x1="72.5" x2="636.5" y1="0" y2="0"><stop offset="0.0000" stop-color="#e0dbd8"/><stop offset="0.0106" stop-color="#f3c7b1"/><stop offset="0.0230" stop-color="#f6a385"/><stop offset="0.0390" stop-color="#e67259"/><stop offset="0.0550" stop-color="#d24b40"/><stop offset="0.0727" stop-color="#c32e31"/><stop offset="0.0922" stop-color="#ba162b"/><stop offset="0.0957" stop-color="#ba162b"/><stop offset="0.0993" stop-color="#b8122a"/><stop offset="0.1082" stop-color="#b70d28"/><stop offset="0.1117" stop-color="#b70d28"/><stop offset="0.8901" stop-color="#b70d28"/><stop offset="0.8936" stop-color="#b70d28"/><stop offset="0.9025" stop-color="#b8122a"/><stop offset="0.9060" stop-color="#ba162b"/><stop offset="0.9096" stop-color="#ba162b"/><stop offset="0.9362" stop-color="#ca3b37"/><stop offset="0.9521" stop-color="#da5a49"/><stop offset="0.9663" stop-color="#ed8366"/><stop offset="0.9823" stop-color="#f7b396"/><stop offset="0.9929" stop-color="#efcfbf"/><stop offset="1.0000" stop-color="#e0dbd8"/></linearGradient><linearGradient id="c67" gradientUnits="userSpaceOnUse" x1="72.5" x2="636.5" y1="0" y2="0"><stop offset="0.0000" stop-color="#e0dbd8"/><stop offset="0.0089" stop-color="#f2cbb7"/><stop offset="0.0195" stop-color="#f7ad90"/><stop offset="0.0355" stop-color="#ea7b60"/><stop offset="0.0514" stop-color="#d55042"/><stop offset="0.0709" stop-color="#c12b30"/><stop offset="0.0762" stop-color="#be242e"/><stop offset="0.0833" stop-color="#ba162b"/><stop offset="0.0869" stop-color="#b8122a"/><stop offset="0.0940" stop-color="#b70d28"/><stop offset="0.0975" stop-color="#b50927"/><stop offset="0.1011" stop-color="#b50927"/><stop offset="0.1082" stop-color="#b40426"/><stop offset="0.1117" stop-color="#b40426"/><stop offset="0.8901" stop-color="#b40426"/><stop offset="0.8936" stop-color="#b50927"/><stop offset="0.9007" stop-color="#b50927"/><stop offset="0.9043" stop-color="#b70d28"/><stop offset="0.9078" stop-color="#b70d28"/><stop offset="0.9149" stop-color="#ba162b"/><stop offset="0.9184" stop-color="#bb1b2c"/><stop offset="0.9255" stop-color="#c0282f"/><stop offset="0.9344" stop-color="#c53334"/><stop offset="0.9504" stop-color="#d75445"/><stop offset="0.9663" stop-color="#ec8165"/><stop offset="0.9805" stop-color="#f7ad90"/><stop offset="0.9911" stop-color="#f2cbb7"/><stop offset="1.0000" stop-color="#e0dbd8"/></linearGradient><linearGradient id="c68" gradientUnits="userSpaceOnUse" x1="72.5" x2="636.5" y1="0" y2="0"><stop offset="0.0000" stop-color="#e1dad6"/><stop offset="0.0106" stop-color="#f3c7b1"/><stop offset="0.0230" stop-color="#f6a385"/><stop offset="0.0390" stop-color="#e67259"/><stop offset="0.0567" stop-color="#d0473d"/><stop offset="0.0745" stop-color="#c0282f"/><stop offset="0.0780" stop-color="#be242e"/><stop offset="0.0922" stop-color="#b8122a"/><stop offset="0.0993" stop-color="#b70d28"/><stop offset="0.1064" stop-color="#b50927"/><stop offset="0.1170" stop-color="#b40426"/><stop offset="0.1206" stop-color="#b40426"/><stop offset="0.8812" stop-color="#b40426"/><stop offset="0.8848" stop-color="#b40426"/><stop offset="0.8972" stop-color="#b50927"/><stop offset="0.9007" stop-color="#b70d28"/><stop offset="0.9043" stop-color="#b70d28"/><stop offset="0.9078" stop-color="#b8122a"/><stop offset="0.9220" stop-color="#be242e"/><stop offset="0.9397" stop-color="#cc403a"/><stop offset="0.9521" stop-color="#da5a49"/><stop offset="0.9681" stop-color="#ef886b"/><stop offset="0.9823" stop-color="#f7b396"/><stop offset="0.9929" stop-color="#efcebd"/><stop offset="1.0000" stop-color="#e1dad6"/></linearGradient><linearGradient id="c69" gradientUnits="userSpaceOnUse" x1="72.5" x2="636.5" y1="0" y2="0"><stop offset="0.0000" stop-color="#e0dbd8"/><stop offset="0.0106" stop-color="#f3c8b2"/><stop offset="0.0230" stop-color="#f7a688"/><stop offset="0.0372" stop-color="#ea7b60"/><stop offset="0.0550" stop-color="#d55042"/><stop offset="0.0745" stop-color="#c43032"/><stop offset="0.0851" stop-color="#be242e"/><stop offset="0.0922" stop-color="#bd1f2d"/><stop offset="0.0993" stop-color="#bb1b2c"/><stop offset="0.1064" stop-color="#ba162b"/><stop offset="0.1188" stop-color="#b8122a"/><stop offset="0.1223" stop-color="#b8122a"/><stop offset="0.8794" stop-color="#b8122a"/><stop offset="0.8830" stop-color="#b8122a"/><stop offset="0.8972" stop-color="#ba162b"/><stop offset="0.9007" stop-color="#bb1b2c"/><stop offset="0.9043" stop-color="#bb1b2c"/><stop offset="0.9078" stop-color="#bd1f2d"/><stop offset="0.9309" stop-color="#c83836"/><stop offset="0.9468" stop-color="#d75445"/><stop offset="0.9628" stop-color="#ea7b60"/><stop offset="0.9787" stop-color="#f7aa8c"/><stop offset="0.9911" stop-color="#f1ccb8"/><stop offset="1.0000" stop-color="#e0dbd8"/></linearGradient><linearGradient id="c70" gradientUnits="userSpaceOnUse" x1="72.5" x2="636.5" y1="0" y2="0"><stop offset="0.0000" stop-color="#dfdbd9"/><stop offset="0.0106" stop-color="#f2c9b4"/><stop offset="0.0248" stop-color="#f6a586"/><stop offset="0.0390" stop-color="#eb7d62"/><stop offset="0.0567" stop-color="#d85646"/><stop offset="0.0780" stop-color="#ca3b37"/><stop offset="0.0975" stop-color="#c43032"/><stop offset="0.1294" stop-color="#c12b30"/><stop offset="0.8848" stop-color="#c12b30"/><stop offset="0.9113" stop-color="#c53334"/><stop offset="0.9309" stop-color="#cf453c"/><stop offset="0.9450" stop-color="#da5a49"/><stop offset="0.9610" stop-color="#eb7d62"/><stop offset="0.9770" stop-color="#f7a98b"/><stop offset="0.9894" stop-color="#f2c9b4"/><stop offset="1.0000" stop-color="#dfdbd9"/></linearGradient><linearGradient id="c71" gradientUnits="userSpaceOnUse" x1="72.5" x2="636.5" y1="0" y2="0"><stop offset="0.0000" stop-color="#dedcdb"/><stop offset="0.0106" stop-color="#f1ccb8"/><stop offset="0.0230" stop-color="#f7af91"/><stop offset="0.0372" stop-color="#f08b6e"/><stop offset="0.0550" stop-color="#e16751"/><stop offset="0.0762" stop-color="#d44e41"/><stop offset="0.0993" stop-color="#cf453c"/><stop offset="0.9060" stop-color="#cf453c"/><stop offset="0.9309" stop-color="#d75445"/><stop offset="0.9504" stop-color="#e57058"/><stop offset="0.9663" stop-color="#f39475"/><stop offset="0.9823" stop-color="#f7bca1"/><stop offset="0.9947" stop-color="#ead5c9"/><stop offset="1.0000" stop-color="#dedcdb"/></linearGradient><linearGradient id="c72" gradientUnits="userSpaceOnUse" x1="72.5" x2="636.5" y1="0" y2="0"><stop offset="0.0000" stop-color="#dcdddd"/><stop offset="0.0124" stop-color="#f2cbb7"/><stop offset="0.0284" stop-color="#f7a98b"/><stop offset="0.0443" stop-color="#ef886b"/><stop offset="0.0638" stop-color="#e36c55"/><stop offset="0.0851" stop-color="#dd5f4b"/><stop offset="0.1507" stop-color="#da5a49"/><stop offset="0.9078" stop-color="#dc5d4a"/><stop offset="0.9344" stop-color="#e36b54"/><stop offset="0.9539" stop-color="#ee8468"/><stop offset="0.9699" stop-color="#f6a586"/><stop offset="0.9858" stop-color="#f3c8b2"/><stop offset="0.9982" stop-color="#e0dbd8"/><stop offset="1.0000" stop-color="#dcdddd"/></linearGradient><linearGradient id="c73" gradientUnits="userSpaceOnUse" x1="72.5" x2="636.5" y1="0" y2="0"><stop offset="0.0000" stop-color="#d9dce1"/><stop offset="0.0124" stop-color="#efcfbf"/><stop offset="0.0266" stop-color="#f7b599"/><stop offset="0.0443" stop-color="#f39778"/><stop offset="0.0638" stop-color="#ec8165"/><stop offset="0.0904" stop-color="#e9785d"/><stop offset="0.9167" stop-color="#e9785d"/><stop offset="0.9397" stop-color="#ee8468"/><stop offset="0.9557" stop-color="#f39778"/><stop offset="0.9699" stop-color="#f7af91"/><stop offset="0.9858" stop-color="#f1cdba"/><stop offset="0.9982" stop-color="#dddcdc"/><stop offset="1.0000" stop-color="#d9dce1"/></linearGradient><linearGradient id="c74" gradientUnits="userSpaceOnUse" x1="72.5" x2="636.5" y1="0" y2="0"><stop offset="0.0000" stop-color="#d6dce4"/><stop offset="0.0071" stop-color="#e3d9d3"/><stop offset="0.0230" stop-color="#f4c5ad"/><stop offset="0.0355" stop-color="#f7b194"/><stop offset="0.0532" stop-color="#f59d7e"/><stop offset="0.0762" stop-color="#f39475"/><stop offset="0.8918" stop-color="#f29274"/><stop offset="0.9291" stop-color="#f39475"/><stop offset="0.9504" stop-color="#f5a081"/><stop offset="0.9681" stop-color="#f7b79b"/><stop offset="0.9858" stop-color="#edd1c2"/><stop offset="0.9982" stop-color="#d9dce1"/><stop offset="1.0000" stop-color="#d6dce4"/></linearGradient><linearGradient id="c75" gradientUnits="userSpaceOnUse" x1="72.5" x2="636.5" y1="0" y2="0"><stop offset="0.0000" stop-color="#d1dae9"/><stop offset="0.0089" stop-color="#e0dbd8"/><stop offset="0.0248" stop-color="#f2cab5"/><stop offset="0.0426" stop-color="#f7b89c"/><stop offset="0.0603" stop-color="#f7ad90"/><stop offset="0.1064" stop-color="#f7ad90"/><stop offset="0.1915" stop-color="#f7b093"/><stop offset="0.8918" stop-color="#f7af91"/><stop offset="0.9344" stop-color="#f7ac8e"/><stop offset="0.9539" stop-color="#f7b599"/><stop offset="0.9716" stop-color="#f4c6af"/><stop offset="0.9894" stop-color="#e3d9d3"/><stop offset="0.9982" stop-color="#d5dbe5"/><stop offset="1.0000" stop-color="#d1dae9"/></linearGradient><linearGradient id="c76" gradientUnits="userSpaceOnUse" x1="72.5" x2="636.5" y1="0" y2="0"><stop offset="0.0000" stop-color="#ccd9ed"/><stop offset="0.0124" stop-color="#dfdbd9"/><stop offset="0.0301" stop-color="#efcebd"/><stop offset="0.0479" stop-color="#f5c4ac"/><stop offset="0.0691" stop-color="#f5c0a7"/><stop offset="0.1365" stop-color="#f3c8b2"/><stop offset="0.8759" stop-color="#f3c8b2"/><stop offset="0.9379" stop-color="#f5c0a7"/><stop offset="0.9628" stop-color="#f2c9b4"/><stop offset="0.9840" stop-color="#e4d9d2"/><stop offset="0.9947" stop-color="#d5dbe5"/><stop offset="1.0000" stop-color="#ccd9ed"/></linearGradient><linearGradient id="c77" gradientUnits="userSpaceOnUse" x1="72.5" x2="636.5" y1="0" y2="0"><stop offset="0.0000" stop-color="#c6d6f1"/><stop offset="0.0195" stop-color="#dfdbd9"/><stop offset="0.0390" stop-color="#ebd3c6"/><stop offset="0.0585" stop-color="#edd1c2"/><stop offset="0.1241" stop-color="#e5d8d1"/><stop offset="0.8848" stop-color="#e5d8d1"/><stop offset="0.9433" stop-color="#edd1c2"/><stop offset="0.9610" stop-color="#ebd3c6"/><stop offset="0.9805" stop-color="#dfdbd9"/><stop offset="1.0000" stop-color="#c6d6f1"/></linearGradient><linearGradient id="c78" gradientUnits="userSpaceOnUse" x1="72.5" x2="636.5" y1="0" y2="0"><stop offset="0.0000" stop-color="#bfd3f6"/><stop offset="0.0213" stop-color="#d7dce3"/><stop offset="0.0479" stop-color="#e0dbd8"/><stop offset="0.1206" stop-color="#cfdaea"/><stop offset="0.8848" stop-color="#cfdaea"/><stop offset="0.9539" stop-color="#e0dbd8"/><stop offset="0.9787" stop-color="#d7dce3"/><stop offset="1.0000" stop-color="#bfd3f6"/></linearGradient><linearGradient id="c79" gradientUnits="userSpaceOnUse" x1="72.5" x2="636.5" y1="0" y2="0"><stop offset="0.0000" stop-color="#b7cff9"/><stop offset="0.0230" stop-color="#ccd9ed"/><stop offset="0.0426" stop-color="#d1dae9"/><stop offset="0.0745" stop-color="#c6d6f1"/><stop offset="0.1206" stop-color="#b6cefa"/><stop offset="0.8812" stop-color="#b6cefa"/><stop offset="0.9309" stop-color="#c9d7f0"/><stop offset="0.9592" stop-color="#d1dae9"/><stop offset="0.9805" stop-color="#cbd8ee"/><stop offset="1.0000" stop-color="#b7cff9"/></linearGradient><linearGradient id="c80" gradientUnits="userSpaceOnUse" x1="72.5" x2="636.5" y1="0" y2="0"><stop offset="0.0000" stop-color="#aec9fc"/><stop offset="0.0230" stop-color="#c0d4f5"/><stop offset="0.0496" stop-color="#bed2f6"/><stop offset="0.1011" stop-color="#a1c0ff"/><stop offset="0.1418" stop-color="#9bbcff"/><stop offset="0.8848" stop-color="#9dbdff"/><stop offset="0.9167" stop-color="#aac7fd"/><stop offset="0.9557" stop-color="#c0d4f5"/><stop offset="0.9805" stop-color="#bfd3f6"/><stop offset="1.0000" stop-color="#aec9fc"/></linearGradient><linearGradient id="c81" gradientUnits="userSpaceOnUse" x1="72.5" x2="636.5" y1="0" y2="0"><stop offset="0.0000" stop-color="#a5c3fe"/><stop offset="0.0195" stop-color="#b2ccfb"/><stop offset="0.0426" stop-color="#afcafc"/><stop offset="0.0975" stop-color="#89acfd"/><stop offset="0.1365" stop-color="#82a6fb"/><stop offset="0.8848" stop-color="#84a7fc"/><stop offset="0.9167" stop-color="#92b4fe"/><stop offset="0.9610" stop-color="#b1cbfc"/><stop offset="0.9805" stop-color="#b2ccfb"/><stop offset="1.0000" stop-color="#a5c3fe"/></linearGradient><linearGradient id="c82" gradientUnits="userSpaceOnUse" x1="72.5" x2="636.5" y1="0" y2="0"><stop offset="0.0000" stop-color="#9dbdff"/><stop offset="0.0230" stop-color="#a5c3fe"/><stop offset="0.0496" stop-color="#9abbff"/><stop offset="0.0940" stop-color="#7597f6"/><stop offset="0.1241" stop-color="#6e90f2"/><stop offset="0.8918" stop-color="#6f92f3"/><stop offset="0.9220" stop-color="#80a3fa"/><stop offset="0.9557" stop-color="#9dbdff"/><stop offset="0.9770" stop-color="#a5c3fe"/><stop offset="1.0000" stop-color="#9dbdff"/></linearGradient><linearGradient id="c83" gradientUnits="userSpaceOnUse" x1="72.5" x2="636.5" y1="0" y2="0"><stop offset="0.0000" stop-color="#93b5fe"/><stop offset="0.0213" stop-color="#98b9ff"/><stop offset="0.0479" stop-color="#8badfd"/><stop offset="0.0887" stop-color="#6687ed"/><stop offset="0.1135" stop-color="#5d7ce6"/><stop offset="0.8954" stop-color="#5e7de7"/><stop offset="0.9184" stop-color="#6a8bef"/><stop offset="0.9592" stop-color="#90b2fe"/><stop offset="0.9858" stop-color="#98b9ff"/><stop offset="1.0000" stop-color="#93b5fe"/></linearGradient><linearGradient id="c84" gradientUnits="userSpaceOnUse" x1="72.5" x2="636.5" y1="0" y2="0"><stop offset="0.0000" stop-color="#8badfd"/><stop offset="0.0230" stop-color="#8caffe"/><stop offset="0.0479" stop-color="#7b9ff9"/><stop offset="0.0922" stop-color="#5470de"/><stop offset="0.1135" stop-color="#4f69d9"/><stop offset="0.2606" stop-color="#516ddb"/><stop offset="0.8670" stop-color="#4f69d9"/><stop offset="0.8989" stop-color="#506bda"/><stop offset="0.9220" stop-color="#5e7de7"/><stop offset="0.9539" stop-color="#7da0f9"/><stop offset="0.9770" stop-color="#8caffe"/><stop offset="1.0000" stop-color="#8badfd"/></linearGradient><linearGradient id="c85" gradientUnits="userSpaceOnUse" x1="72.5" x2="636.5" y1="0" y2="0"><stop offset="0.0000" stop-color="#82a6fb"/><stop offset="0.0230" stop-color="#81a4fb"/><stop offset="0.0479" stop-color="#6f92f3"/><stop offset="0.0904" stop-color="#4a63d3"/><stop offset="0.1099" stop-color="#445acc"/><stop offset="0.1915" stop-color="#485fd1"/><stop offset="0.8582" stop-color="#465ecf"/><stop offset="0.8936" stop-color="#445acc"/><stop offset="0.9167" stop-color="#4f69d9"/><stop offset="0.9557" stop-color="#7396f5"/><stop offset="0.9805" stop-color="#82a6fb"/><stop offset="1.0000" stop-color="#82a6fb"/></linearGradient><linearGradient id="c86" gradientUnits="userSpaceOnUse" x1="72.5" x2="636.5" y1="0" y2="0"><stop offset="0.0000" stop-color="#7a9df8"/><stop offset="0.0195" stop-color="#799cf8"/><stop offset="0.0443" stop-color="#6a8bef"/><stop offset="0.0887" stop-color="#445acc"/><stop offset="0.1046" stop-color="#3e51c5"/><stop offset="0.1418" stop-color="#4055c8"/><stop offset="0.8670" stop-color="#3f53c6"/><stop offset="0.8972" stop-color="#3e51c5"/><stop offset="0.9149" stop-color="#465ecf"/><stop offset="0.9557" stop-color="#6a8bef"/><stop offset="0.9805" stop-color="#799cf8"/><stop offset="1.0000" stop-color="#7a9df8"/></linearGradient><linearGradient id="c87" gradientUnits="userSpaceOnUse" x1="72.5" x2="636.5" y1="0" y2="0"><stop offset="0.0000" stop-color="#7396f5"/><stop offset="0.0248" stop-color="#6f92f3"/><stop offset="0.0532" stop-color="#5b7ae5"/><stop offset="0.0957" stop-color="#3e51c5"/><stop offset="0.9078" stop-color="#3f53c6"/><stop offset="0.9592" stop-color="#6485ec"/><stop offset="0.9840" stop-color="#7295f4"/><stop offset="1.0000" stop-color="#7396f5"/></linearGradient><linearGradient id="c88" gradientUnits="userSpaceOnUse" x1="72.5" x2="636.5" y1="0" y2="0"><stop offset="0.0000" stop-color="#6e90f2"/><stop offset="0.0248" stop-color="#688aef"/><stop offset="0.0567" stop-color="#5572df"/><stop offset="0.0957" stop-color="#3e51c5"/><stop offset="0.9060" stop-color="#3f53c6"/><stop offset="0.9468" stop-color="#5875e1"/><stop offset="0.9805" stop-color="#6a8bef"/><stop offset="1.0000" stop-color="#6e90f2"/></linearGradient><linearGradient id="c89" gradientUnits="userSpaceOnUse" x1="72.5" x2="636.5" y1="0" y2="0"><stop offset="0.0000" stop-color="#688aef"/><stop offset="0.0284" stop-color="#6282ea"/><stop offset="0.0940" stop-color="#4055c8"/><stop offset="0.1188" stop-color="#3e51c5"/><stop offset="0.9025" stop-color="#3f53c6"/><stop offset="0.9450" stop-color="#5470de"/><stop offset="0.9823" stop-color="#6687ed"/><stop offset="1.0000" stop-color="#688aef"/></linearGradient><linearGradient id="c90" gradientUnits="userSpaceOnUse" x1="72.5" x2="636.5" y1="0" y2="0"><stop offset="0.0000" stop-color="#6485ec"/><stop offset="0.0319" stop-color="#5d7ce6"/><stop offset="0.0975" stop-color="#4055c8"/><stop offset="0.1277" stop-color="#3e51c5"/><stop offset="0.8989" stop-color="#3f53c6"/><stop offset="0.9415" stop-color="#506bda"/><stop offset="0.9787" stop-color="#6180e9"/><stop offset="1.0000" stop-color="#6485ec"/></linearGradient><linearGradient id="c91" gradientUnits="userSpaceOnUse" x1="72.5" x2="636.5" y1="0" y2="0"><stop offset="0.0000" stop-color="#6180e9"/><stop offset="0.0355" stop-color="#5977e3"/><stop offset="0.0957" stop-color="#4257c9"/><stop offset="0.1188" stop-color="#3e51c5"/><stop offset="0.8972" stop-color="#3f53c6"/><stop offset="0.9770" stop-color="#5d7ce6"/><stop offset="1.0000" stop-color="#6180e9"/></linearGradient><linearGradient id="c92" gradientUnits="userSpaceOnUse" x1="72.5" x2="636.5" y1="0" y2="0"><stop offset="0.0000" stop-color="#5d7ce6"/><stop offset="0.0284" stop-color="#5977e3"/><stop offset="0.1064" stop-color="#3f53c6"/><stop offset="0.8954" stop-color="#3f53c6"/><stop offset="0.9787" stop-color="#5a78e4"/><stop offset="1.0000" stop-color="#5d7ce6"/></linearGradient><linearGradient id="c93" gradientUnits="userSpaceOnUse" x1="72.5" x2="636.5" y1="0" y2="0"><stop offset="0.0000" stop-color="#5a78e4"/><stop offset="0.0337" stop-color="#5572df"/><stop offset="0.1082" stop-color="#3f53c6"/><stop offset="0.8936" stop-color="#3f53c6"/><stop offset="0.9787" stop-color="#5875e1"/><stop offset="1.0000" stop-color="#5a78e4"/></linearGradient><linearGradient id="c94" gradientUnits="userSpaceOnUse" x1="72.5" x2="636.5" y1="0" y2="0"><stop offset="0.0000" stop-color="#5875e1"/><stop offset="0.0319" stop-color="#5470de"/><stop offset="0.1152" stop-color="#3e51c5"/><stop offset="0.8936" stop-color="#3f53c6"/><stop offset="0.9823" stop-color="#5673e0"/><stop offset="1.0000" stop-color="#5875e1"/></linearGradient><linearGradient id="c95" gradientUnits="userSpaceOnUse" x1="72.5" x2="636.5" y1="0" y2="0"><stop offset="0.0000" stop-color="#5572df"/><stop offset="0.0408" stop-color="#506bda"/><stop offset="0.1188" stop-color="#3e51c5"/><stop offset="0.8936" stop-color="#3f53c6"/><stop offset="0.9805" stop-color="#5470de"/><stop offset="1.0000" stop-color="#5572df"/></linearGradient><linearGradient id="c96" gradientUnits="userSpaceOnUse" x1="72.5" x2="636.5" y1="0" y2="0"><stop offset="0.0000" stop-color="#5470de"/><stop offset="0.0408" stop-color="#4f69d9"/><stop offset="0.1188" stop-color="#3e51c5"/><stop offset="0.8936" stop-color="#3f53c6"/><stop offset="0.9823" stop-color="#536edd"/><stop offset="1.0000" stop-color="#5470de"/></linearGradient><linearGradient id="c97" gradientUnits="userSpaceOnUse" x1="72.5" x2="636.5" y1="0" y2="0"><stop offset="0.0000" stop-color="#516ddb"/><stop offset="0.0532" stop-color="#4b64d5"/><stop offset="0.1206" stop-color="#3e51c5"/><stop offset="0.8936" stop-color="#3f53c6"/><stop offset="0.9787" stop-color="#506bda"/><stop offset="1.0000" stop-color="#516ddb"/></linearGradient><linearGradient id="c98" gradientUnits="userSpaceOnUse" x1="72.5" x2="636.5" y1="0" y2="0"><stop offset="0.0000" stop-color="#506bda"/><stop offset="0.0496" stop-color="#4a63d3"/><stop offset="0.1206" stop-color="#3e51c5"/><stop offset="0.8936" stop-color="#3f53c6"/><stop offset="0.9787" stop-color="#4f69d9"/><stop offset="1.0000" stop-color="#506bda"/></linearGradient><linearGradient id="c99" gradientUnits="userSpaceOnUse" x1="72.5" x2="636.5" y1="0" y2="0"><stop offset="0.0000" stop-color="#4f69d9"/><stop offset="0.0585" stop-color="#485fd1"/><stop offset="0.1241" stop-color="#3e51c5"/><stop offset="0.8936" stop-color="#3f53c6"/><stop offset="0.9805" stop-color="#4e68d8"/><stop offset="1.0000" stop-color="#4f69d9"/></linearGradient><linearGradient id="c100" gradientUnits="userSpaceOnUse" x1="72.5" x2="636.5" y1="0" y2="0"><stop offset="0.0000" stop-color="#4e68d8"/><stop offset="0.0603" stop-color="#485fd1"/><stop offset="0.1259" stop-color="#3e51c5"/><stop offset="0.8936" stop-color="#3f53c6"/><stop offset="0.9805" stop-color="#4c66d6"/><stop offset="1.0000" stop-color="#4e68d8"/></linearGradient><linearGradient id="c101" gradientUnits="userSpaceOnUse" x1="72.5" x2="636.5" y1="0" y2="0"><stop offset="0.0000" stop-color="#4c66d6"/><stop offset="0.0656" stop-color="#455cce"/><stop offset="0.1277" stop-color="#3e51c5"/><stop offset="0.8936" stop-color="#3f53c6"/><stop offset="0.9823" stop-color="#4b64d5"/><stop offset="1.0000" stop-color="#4c66d6"/></linearGradient><linearGradient id="c102" gradientUnits="userSpaceOnUse" x1="72.5" x2="636.5" y1="0" y2="0"><stop offset="0.0000" stop-color="#4b64d5"/><stop offset="0.0780" stop-color="#445acc"/><stop offset="0.1294" stop-color="#3e51c5"/><stop offset="0.8936" stop-color="#3f53c6"/><stop offset="0.9823" stop-color="#4a63d3"/><stop offset="1.0000" stop-color="#4b64d5"/></linearGradient><linearGradient id="c103" gradientUnits="userSpaceOnUse" x1="72.5" x2="636.5" y1="0" y2="0"><stop offset="0.0000" stop-color="#4a63d3"/><stop offset="0.0851" stop-color="#4257c9"/><stop offset="0.1312" stop-color="#3e51c5"/><stop offset="0.8936" stop-color="#3f53c6"/><stop offset="0.9823" stop-color="#4961d2"/><stop offset="1.0000" stop-color="#4a63d3"/></linearGradient><linearGradient id="c104" gradientUnits="userSpaceOnUse" x1="72.5" x2="636.5" y1="0" y2="0"><stop offset="0.0000" stop-color="#4961d2"/><stop offset="0.0816" stop-color="#4358cb"/><stop offset="0.1330" stop-color="#3e51c5"/><stop offset="0.8954" stop-color="#3f53c6"/><stop offset="0.9787" stop-color="#485fd1"/><stop offset="1.0000" stop-color="#4961d2"/></linearGradient><linearGradient id="c105" gradientUnits="userSpaceOnUse" x1="72.5" x2="636.5" y1="0" y2="0"><stop offset="0.0000" stop-color="#485fd1"/><stop offset="0.0798" stop-color="#4257c9"/><stop offset="0.1348" stop-color="#3e51c5"/><stop offset="0.8954" stop-color="#3f53c6"/><stop offset="0.9911" stop-color="#485fd1"/><stop offset="1.0000" stop-color="#485fd1"/></linearGradient><linearGradient id="c106" gradientUnits="userSpaceOnUse" x1="72.5" x2="636.5" y1="0" y2="0"><stop offset="0.0000" stop-color="#465ecf"/><stop offset="0.0745" stop-color="#4358cb"/><stop offset="0.1365" stop-color="#3e51c5"/><stop offset="0.8972" stop-color="#3f53c6"/><stop offset="0.9911" stop-color="#465ecf"/><stop offset="1.0000" stop-color="#465ecf"/></linearGradient><linearGradient id="c107" gradientUnits="userSpaceOnUse" x1="72.5" x2="636.5" y1="0" y2="0"><stop offset="0.0000" stop-color="#455cce"/><stop offset="0.1418" stop-color="#3e51c5"/><stop offset="0.8989" stop-color="#3f53c6"/><stop offset="0.9876" stop-color="#455cce"/><stop offset="1.0000" stop-color="#455cce"/></linearGradient><linearGradient id="c108" gradientUnits="userSpaceOnUse" x1="72.5" x2="636.5" y1="0" y2="0"><stop offset="0.0000" stop-color="#455cce"/><stop offset="0.1489" stop-color="#3e51c5"/><stop offset="0.9025" stop-color="#3f53c6"/><stop offset="1.0000" stop-color="#455cce"/></linearGradient><linearGradient id="c109" gradientUnits="userSpaceOnUse" x1="72.5" x2="636.5" y1="0" y2="0"><stop offset="0.0000" stop-color="#445acc"/><stop offset="0.1099" stop-color="#3e51c5"/><stop offset="0.9060" stop-color="#3f53c6"/><stop offset="1.0000" stop-color="#445acc"/></linearGradient><linearGradient id="c110" gradientUnits="userSpaceOnUse" x1="72.5" x2="636.5" y1="0" y2="0"><stop offset="0.0000" stop-color="#4358cb"/><stop offset="0.0887" stop-color="#3f53c6"/><stop offset="0.1631" stop-color="#3e51c5"/><stop offset="0.9096" stop-color="#3f53c6"/><stop offset="0.9965" stop-color="#4358cb"/><stop offset="1.0000" stop-color="#4358cb"/></linearGradient><linearGradient id="c111" gradientUnits="userSpaceOnUse" x1="72.5" x2="636.5" y1="0" y2="0"><stop offset="0.0000" stop-color="#4358cb"/><stop offset="0.1649" stop-color="#3e51c5"/><stop offset="0.9149" stop-color="#3f53c6"/><stop offset="1.0000" stop-color="#4358cb"/></linearGradient><linearGradient id="c112" gradientUnits="userSpaceOnUse" x1="72.5" x2="636.5" y1="0" y2="0"><stop offset="0.0000" stop-color="#4257c9"/><stop offset="0.1968" stop-color="#3e51c5"/><stop offset="0.9220" stop-color="#3f53c6"/><stop offset="1.0000" stop-color="#4257c9"/></linearGradient><linearGradient id="c113" gradientUnits="userSpaceOnUse" x1="72.5" x2="636.5" y1="0" y2="0"><stop offset="0.0000" stop-color="#4257c9"/><stop offset="0.1826" stop-color="#3e51c5"/><stop offset="0.9326" stop-color="#3f53c6"/><stop offset="1.0000" stop-color="#4257c9"/></linearGradient><linearGradient id="c114" gradientUnits="userSpaceOnUse" x1="72.5" x2="636.5" y1="0" y2="0"><stop offset="0.0000" stop-color="#4055c8"/><stop offset="0.3138" stop-color="#3e51c5"/><stop offset="0.9486" stop-color="#3f53c6"/><stop offset="1.0000" stop-color="#4055c8"/></linearGradient><linearGradient id="c115" gradientUnits="userSpaceOnUse" x1="72.5" x2="636.5" y1="0" y2="0"><stop offset="0.0000" stop-color="#4055c8"/><stop offset="0.2766" stop-color="#3e51c5"/><stop offset="0.9770" stop-color="#3f53c6"/><stop offset="1.0000" stop-color="#4055c8"/></linearGradient></defs>
<rect width="685" height="570" fill="#fff"/>
<g id="panelA">
<path d="M83.78 18.5V151.6M95.06 18.5V151.6M106.34 18.5V151.6M117.62 18.5V151.6M140.18 18.5V151.6M151.46 18.5V151.6M162.74 18.5V151.6M174.02 18.5V151.6M196.58 18.5V151.6M207.86 18.5V151.6M219.14 18.5V151.6M230.42 18.5V151.6M252.98 18.5V151.6M264.26 18.5V151.6M275.54 18.5V151.6M286.82 18.5V151.6M309.38 18.5V151.6M320.66 18.5V151.6M331.94 18.5V151.6M343.22 18.5V151.6M365.78 18.5V151.6M377.06 18.5V151.6M388.34 18.5V151.6M399.62 18.5V151.6M422.18 18.5V151.6M433.46 18.5V151.6M444.74 18.5V151.6M456.02 18.5V151.6M478.58 18.5V151.6M489.86 18.5V151.6M501.14 18.5V151.6M512.42 18.5V151.6M534.98 18.5V151.6M546.26 18.5V151.6M557.54 18.5V151.6M568.82 18.5V151.6M591.38 18.5V151.6M602.66 18.5V151.6M613.94 18.5V151.6M625.22 18.5V151.6M72.5 138.29H636.5M72.5 124.98H636.5M72.5 111.67H636.5M72.5 98.36H636.5M72.5 71.74H636.5M72.5 58.43H636.5M72.5 45.12H636.5M72.5 31.81H636.5" stroke="#000" stroke-opacity="0.16" stroke-width="0.6" stroke-dasharray="1.2 1.6" fill="none"/>
<path d="M128.90 18.5V151.6M185.30 18.5V151.6M241.70 18.5V151.6M298.10 18.5V151.6M354.50 18.5V151.6M410.90 18.5V151.6M467.30 18.5V151.6M523.70 18.5V151.6M580.10 18.5V151.6M72.5 85.05H636.5" stroke="#000" stroke-opacity="0.2" stroke-width="0.6" fill="none"/>
<polyline points="72.50,18.50 73.63,21.76 74.76,31.21 75.88,45.93 77.01,64.48 78.14,85.05 79.27,105.62 80.40,124.17 81.52,138.89 82.65,148.34 83.78,151.60 84.91,148.34 86.04,138.89 87.16,124.17 88.29,105.62 89.42,85.05 90.55,64.48 91.68,45.93 92.80,31.21 93.93,21.76 95.06,18.50 96.19,21.76 97.32,31.21 98.44,45.93 99.57,64.48 100.70,85.05 101.83,105.62 102.96,124.17 104.08,138.89 105.21,148.34 106.34,151.60 107.47,148.34 108.60,138.89 109.72,124.17 110.85,105.62 111.98,85.05 113.11,64.48 114.24,45.93 115.36,31.21 116.49,21.76 117.62,18.50 118.75,21.76 119.88,31.21 121.00,45.93 122.13,64.48 123.26,85.05 124.39,105.62 125.52,124.17 126.64,138.89 127.77,148.34 128.90,151.60 130.03,148.34 131.16,138.89 132.28,124.17 133.41,105.62 134.54,85.05 135.67,64.48 136.80,45.93 137.92,31.21 139.05,21.76 140.18,18.50 141.31,21.76 142.44,31.21 143.56,45.93 144.69,64.48 145.82,85.05 146.95,105.62 148.08,124.17 149.20,138.89 150.33,148.34 151.46,151.60 152.59,148.34 153.72,138.89 154.84,124.17 155.97,105.62 157.10,85.05 158.23,64.48 159.36,45.93 160.48,31.21 161.61,21.76 162.74,18.50 163.87,21.76 165.00,31.21 166.12,45.93 167.25,64.48 168.38,85.05 169.51,105.62 170.64,124.17 171.76,138.89 172.89,148.34 174.02,151.60 175.15,148.34 176.28,138.89 177.40,124.17 178.53,105.62 179.66,85.05 180.79,64.48 181.92,45.93 183.04,31.21 184.17,21.76 185.30,18.50 186.43,21.76 187.56,31.21 188.68,45.93 189.81,64.48 190.94,85.05 192.07,105.62 193.20,124.17 194.32,138.89 195.45,148.34 196.58,151.60 197.71,148.34 198.84,138.89 199.96,124.17 201.09,105.62 202.22,85.05 203.35,64.48 204.48,45.93 205.60,31.21 206.73,21.76 207.86,18.50 208.99,21.76 210.12,31.21 211.24,45.93 212.37,64.48 213.50,85.05 214.63,105.62 215.76,124.17 216.88,138.89 218.01,148.34 219.14,151.60 220.27,148.34 221.40,138.89 222.52,124.17 223.65,105.62 224.78,85.05 225.91,64.48 227.04,45.93 228.16,31.21 229.29,21.76 230.42,18.50 231.55,21.76 232.68,31.21 233.80,45.93 234.93,64.48 236.06,85.05 237.19,105.62 238.32,124.17 239.44,138.89 240.57,148.34 241.70,151.60 242.83,148.34 243.96,138.89 245.08,124.17 246.21,105.62 247.34,85.05 248.47,64.48 249.60,45.93 250.72,31.21 251.85,21.76 252.98,18.50 254.11,21.76 255.24,31.21 256.36,45.93 257.49,64.48 258.62,85.05 259.75,105.62 260.88,124.17 262.00,138.89 263.13,148.34 264.26,151.60 265.39,148.34 266.52,138.89 267.64,124.17 268.77,105.62 269.90,85.05 271.03,64.48 272.16,45.93 273.28,31.21 274.41,21.76 275.54,18.50 276.67,21.76 277.80,31.21 278.92,45.93 280.05,64.48 281.18,85.05 282.31,105.62 283.44,124.17 284.56,138.89 285.69,148.34 286.82,151.60 287.95,148.34 289.08,138.89 290.20,124.17 291.33,105.62 292.46,85.05 293.59,64.48 294.72,45.93 295.84,31.21 296.97,21.76 298.10,18.50 299.23,21.76 300.36,31.21 301.48,45.93 302.61,64.48 303.74,85.05 304.87,105.62 306.00,124.17 307.12,138.89 308.25,148.34 309.38,151.60 310.51,148.34 311.64,138.89 312.76,124.17 313.89,105.62 315.02,85.05 316.15,64.48 317.28,45.93 318.40,31.21 319.53,21.76 320.66,18.50 321.79,21.76 322.92,31.21 324.04,45.93 325.17,64.48 326.30,85.05 327.43,105.62 328.56,124.17 329.68,138.89 330.81,148.34 331.94,151.60 333.07,148.34 334.20,138.89 335.32,124.17 336.45,105.62 337.58,85.05 338.71,64.48 339.84,45.93 340.96,31.21 342.09,21.76 343.22,18.50 344.35,21.76 345.48,31.21 346.60,45.93 347.73,64.48 348.86,85.05 349.99,105.62 351.12,124.17 352.24,138.89 353.37,148.34 354.50,151.60 355.63,148.34 356.76,138.89 357.88,124.17 359.01,105.62 360.14,85.05 361.27,64.48 362.40,45.93 363.52,31.21 364.65,21.76 365.78,18.50 366.91,21.76 368.04,31.21 369.16,45.93 370.29,64.48 371.42,85.05 372.55,105.62 373.68,124.17 374.80,138.89 375.93,148.34 377.06,151.60 378.19,148.34 379.32,138.89 380.44,124.17 381.57,105.62 382.70,85.05 383.83,64.48 384.96,45.93 386.08,31.21 387.21,21.76 388.34,18.50 389.47,21.76 390.60,31.21 391.72,45.93 392.85,64.48 393.98,85.05 395.11,105.62 396.24,124.17 397.36,138.89 398.49,148.34 399.62,151.60 400.75,148.34 401.88,138.89 403.00,124.17 404.13,105.62 405.26,85.05 406.39,64.48 407.52,45.93 408.64,31.21 409.77,21.76 410.90,18.50 412.03,21.76 413.16,31.21 414.28,45.93 415.41,64.48 416.54,85.05 417.67,105.62 418.80,124.17 419.92,138.89 421.05,148.34 422.18,151.60 423.31,148.34 424.44,138.89 425.56,124.17 426.69,105.62 427.82,85.05 428.95,64.48 430.08,45.93 431.20,31.21 432.33,21.76 433.46,18.50 434.59,21.76 435.72,31.21 436.84,45.93 437.97,64.48 439.10,85.05 440.23,105.62 441.36,124.17 442.48,138.89 443.61,148.34 444.74,151.60 445.87,148.34 447.00,138.89 448.12,124.17 449.25,105.62 450.38,85.05 451.51,64.48 452.64,45.93 453.76,31.21 454.89,21.76 456.02,18.50 457.15,21.76 458.28,31.21 459.40,45.93 460.53,64.48 461.66,85.05 462.79,105.62 463.92,124.17 465.04,138.89 466.17,148.34 467.30,151.60 468.43,148.34 469.56,138.89 470.68,124.17 471.81,105.62 472.94,85.05 474.07,64.48 475.20,45.93 476.32,31.21 477.45,21.76 478.58,18.50 479.71,21.76 480.84,31.21 481.96,45.93 483.09,64.48 484.22,85.05 485.35,105.62 486.48,124.17 487.60,138.89 488.73,148.34 489.86,151.60 490.99,148.34 492.12,138.89 493.24,124.17 494.37,105.62 495.50,85.05 496.63,64.48 497.76,45.93 498.88,31.21 500.01,21.76 501.14,18.50 502.27,21.76 503.40,31.21 504.52,45.93 505.65,64.48 506.78,85.05 507.91,105.62 509.04,124.17 510.16,138.89 511.29,148.34 512.42,151.60 513.55,148.34 514.68,138.89 515.80,124.17 516.93,105.62 518.06,85.05 519.19,64.48 520.32,45.93 521.44,31.21 522.57,21.76 523.70,18.50 524.83,21.76 525.96,31.21 527.08,45.93 528.21,64.48 529.34,85.05 530.47,105.62 531.60,124.17 532.72,138.89 533.85,148.34 534.98,151.60 536.11,148.34 537.24,138.89 538.36,124.17 539.49,105.62 540.62,85.05 541.75,64.48 542.88,45.93 544.00,31.21 545.13,21.76 546.26,18.50 547.39,21.76 548.52,31.21 549.64,45.93 550.77,64.48 551.90,85.05 553.03,105.62 554.16,124.17 555.28,138.89 556.41,148.34 557.54,151.60 558.67,148.34 559.80,138.89 560.92,124.17 562.05,105.62 563.18,85.05 564.31,64.48 565.44,45.93 566.56,31.21 567.69,21.76 568.82,18.50 569.95,21.76 571.08,31.21 572.20,45.93 573.33,64.48 574.46,85.05 575.59,105.62 576.72,124.17 577.84,138.89 578.97,148.34 580.10,151.60 581.23,148.34 582.36,138.89 583.48,124.17 584.61,105.62 585.74,85.05 586.87,64.48 588.00,45.93 589.12,31.21 590.25,21.76 591.38,18.50 592.51,21.76 593.64,31.21 594.76,45.93 595.89,64.48 597.02,85.05 598.15,105.62 599.28,124.17 600.40,138.89 601.53,148.34 602.66,151.60 603.79,148.34 604.92,138.89 606.04,124.17 607.17,105.62 608.30,85.05 609.43,64.48 610.56,45.93 611.68,31.21 612.81,21.76 613.94,18.50 615.07,21.76 616.20,31.21 617.32,45.93 618.45,64.48 619.58,85.05 620.71,105.62 621.84,124.17 622.96,138.89 624.09,148.34 625.22,151.60 626.35,148.34 627.48,138.89 628.60,124.17 629.73,105.62 630.86,85.05 631.99,64.48 633.12,45.93 634.24,31.21 635.37,21.76 636.50,18.50" fill="none" stroke="#0a0a0a" stroke-width="1.12" stroke-linejoin="round"/>
<path d="M128.90 151.6v-5.6M128.90 18.5v5.6M185.30 151.6v-5.6M185.30 18.5v5.6M241.70 151.6v-5.6M241.70 18.5v5.6M298.10 151.6v-5.6M298.10 18.5v5.6M354.50 151.6v-5.6M354.50 18.5v5.6M410.90 151.6v-5.6M410.90 18.5v5.6M467.30 151.6v-5.6M467.30 18.5v5.6M523.70 151.6v-5.6M523.70 18.5v5.6M580.10 151.6v-5.6M580.10 18.5v5.6M72.5 85.05h5.6M636.5 85.05h-5.6" stroke="#262626" stroke-width="0.7" fill="none"/>
<rect x="72.5" y="18.5" width="564.0" height="133.1" fill="none" stroke="#3c3c3c" stroke-width="1.05"/>
<g font-family="Liberation Sans, Arial, sans-serif" font-size="14.2" fill="#262626" stroke="#262626" stroke-width="0.2" text-anchor="middle">
<text transform="translate(71.7,172.1) scale(1,1.045)">0</text>
<text transform="translate(128.8,172.1) scale(1,1.045)">0.05</text>
<text transform="translate(185.2,172.1) scale(1,1.045)">0.1</text>
<text transform="translate(241.6,172.1) scale(1,1.045)">0.15</text>
<text transform="translate(298.0,172.1) scale(1,1.045)">0.2</text>
<text transform="translate(354.4,172.1) scale(1,1.045)">0.25</text>
<text transform="translate(410.8,172.1) scale(1,1.045)">0.3</text>
<text transform="translate(467.2,172.1) scale(1,1.045)">0.35</text>
<text transform="translate(523.6,172.1) scale(1,1.045)">0.4</text>
<text transform="translate(580.0,172.1) scale(1,1.045)">0.45</text>
<text transform="translate(636.4,172.1) scale(1,1.045)">0.5</text>
</g>
<g font-family="Liberation Sans, Arial, sans-serif" font-size="14.2" fill="#262626" stroke="#262626" stroke-width="0.2" text-anchor="end">
<text transform="translate(66.4,24.4) scale(1,1.045)">1</text>
<text transform="translate(66.4,91.0) scale(1,1.045)">0</text>
<text transform="translate(66.4,157.5) scale(1,1.045)">-1</text>
</g>
<text transform="translate(47.8,85.75) rotate(-90) scale(1.012,0.955)" font-family="Liberation Sans, Arial, sans-serif" font-weight="bold" font-size="15.6" fill="#262626" text-anchor="middle">Amplitude</text>
<text transform="translate(4.6,20) scale(1.04,1)" font-family="Liberation Serif, Times New Roman, serif" font-weight="bold" font-size="22" fill="#0a0a0a" stroke="#0a0a0a" stroke-width="0.3">(a)</text>
</g>
<g id="panelB">
<rect x="72.5" y="204.6" width="564.0" height="132.70000000000002" fill="#3c4ec2"/>
<rect x="72.5" y="220.15" width="564.0" height="11.07" fill="url(#b2)"/>
<rect x="72.5" y="230.52" width="564.0" height="11.07" fill="url(#b3)"/>
<rect x="72.5" y="240.89" width="564.0" height="11.07" fill="url(#b4)"/>
<rect x="72.5" y="251.25" width="564.0" height="11.07" fill="url(#b5)"/>
<rect x="72.5" y="261.62" width="564.0" height="11.07" fill="url(#b6)"/>
<rect x="72.5" y="271.99" width="564.0" height="11.07" fill="url(#b7)"/>
<rect x="72.5" y="282.35" width="564.0" height="11.07" fill="url(#b8)"/>
<rect x="72.5" y="292.72" width="564.0" height="11.07" fill="url(#b9)"/>
<rect x="72.5" y="303.09" width="564.0" height="11.07" fill="url(#b10)"/>
<rect x="72.5" y="313.46" width="564.0" height="11.07" fill="url(#b11)"/>
<path d="M128.90 337.3v-5.6M128.90 204.6v5.6M185.30 337.3v-5.6M185.30 204.6v5.6M241.70 337.3v-5.6M241.70 204.6v5.6M298.10 337.3v-5.6M298.10 204.6v5.6M354.50 337.3v-5.6M354.50 204.6v5.6M410.90 337.3v-5.6M410.90 204.6v5.6M467.30 337.3v-5.6M467.30 204.6v5.6M523.70 337.3v-5.6M523.70 204.6v5.6M580.10 337.3v-5.6M580.10 204.6v5.6" stroke="#262626" stroke-width="0.7" fill="none"/>
<rect x="72.5" y="204.6" width="564.0" height="132.70000000000002" fill="none" stroke="#262626" stroke-width="0.6"/>
<g font-family="Liberation Sans, Arial, sans-serif" font-size="14.2" fill="#262626" stroke="#262626" stroke-width="0.2" text-anchor="middle">
<text transform="translate(71.7,357.8) scale(1,1.045)">0</text>
<text transform="translate(128.8,357.8) scale(1,1.045)">0.05</text>
<text transform="translate(185.2,357.8) scale(1,1.045)">0.1</text>
<text transform="translate(241.6,357.8) scale(1,1.045)">0.15</text>
<text transform="translate(298.0,357.8) scale(1,1.045)">0.2</text>
<text transform="translate(354.4,357.8) scale(1,1.045)">0.25</text>
<text transform="translate(410.8,357.8) scale(1,1.045)">0.3</text>
<text transform="translate(467.2,357.8) scale(1,1.045)">0.35</text>
<text transform="translate(523.6,357.8) scale(1,1.045)">0.4</text>
<text transform="translate(580.0,357.8) scale(1,1.045)">0.45</text>
<text transform="translate(636.4,357.8) scale(1,1.045)">0.5</text>
</g>
<g font-family="Liberation Sans, Arial, sans-serif" font-size="14.2" fill="#262626" stroke="#262626" stroke-width="0.2" text-anchor="end">
<text transform="translate(66.4,209.4) scale(1,1.045)">0</text>
<text transform="translate(66.4,276.8) scale(1,1.045)">50</text>
<text transform="translate(66.4,343.7) scale(1,1.045)">100</text>
</g>
<text transform="translate(36.0,271.15) rotate(-90) scale(1.012,0.955)" font-family="Liberation Sans, Arial, sans-serif" font-weight="bold" font-size="15.6" fill="#262626" text-anchor="middle">Frequency (Hz)</text>
<text transform="translate(4.6,199.1) scale(1.04,1)" font-family="Liberation Serif, Times New Roman, serif" font-weight="bold" font-size="22" fill="#0a0a0a" stroke="#0a0a0a" stroke-width="0.3">(b)</text>
<text x="622.3" y="231.2" font-family="Liberation Serif, Times New Roman, serif" font-weight="bold" font-size="20.7" fill="#fff" stroke="#fff" stroke-width="0.25" text-anchor="end">STFT</text>
<rect x="645.8" y="204.6" width="14.0" height="132.70000000000002" fill="url(#cb)" stroke="#262626" stroke-width="0.6"/>
<g font-family="Liberation Sans, Arial, sans-serif" font-size="13.3" fill="#262626" stroke="#262626" stroke-width="0.2">
<text transform="translate(664.4,210.0) scale(1,1.08)">1</text>
<text transform="translate(664.4,277.3) scale(1,1.08)">0.5</text>
<text transform="translate(664.4,343.7) scale(1,1.08)">0</text>
</g>
</g>
<g id="panelC">
<clipPath id="cpc"><rect x="72.2" y="390.3" width="564.3" height="132.7"/></clipPath>
<g clip-path="url(#cpc)">
<rect x="72.2" y="390" width="564.3" height="1.5" fill="url(#c0)"/>
<rect x="72.2" y="391" width="564.3" height="1.5" fill="url(#c1)"/>
<rect x="72.2" y="392" width="564.3" height="1.5" fill="url(#c2)"/>
<rect x="72.2" y="393" width="564.3" height="1.5" fill="url(#c3)"/>
<rect x="72.2" y="394" width="564.3" height="1.5" fill="url(#c4)"/>
<rect x="72.2" y="395" width="564.3" height="1.5" fill="url(#c5)"/>
<rect x="72.2" y="396" width="564.3" height="1.5" fill="url(#c6)"/>
<rect x="72.2" y="397" width="564.3" height="1.5" fill="url(#c7)"/>
<rect x="72.2" y="398" width="564.3" height="1.5" fill="url(#c8)"/>
<rect x="72.2" y="399" width="564.3" height="1.5" fill="url(#c9)"/>
<rect x="72.2" y="400" width="564.3" height="1.5" fill="url(#c10)"/>
<rect x="72.2" y="401" width="564.3" height="1.5" fill="url(#c11)"/>
<rect x="72.2" y="402" width="564.3" height="1.5" fill="url(#c12)"/>
<rect x="72.2" y="403" width="564.3" height="1.5" fill="url(#c13)"/>
<rect x="72.2" y="404" width="564.3" height="1.5" fill="url(#c14)"/>
<rect x="72.2" y="405" width="564.3" height="1.5" fill="url(#c15)"/>
<rect x="72.2" y="406" width="564.3" height="1.5" fill="url(#c16)"/>
<rect x="72.2" y="407" width="564.3" height="1.5" fill="url(#c17)"/>
<rect x="72.2" y="408" width="564.3" height="1.5" fill="url(#c18)"/>
<rect x="72.2" y="409" width="564.3" height="1.5" fill="url(#c19)"/>
<rect x="72.2" y="410" width="564.3" height="1.5" fill="url(#c20)"/>
<rect x="72.2" y="411" width="564.3" height="1.5" fill="url(#c21)"/>
<rect x="72.2" y="412" width="564.3" height="1.5" fill="url(#c22)"/>
<rect x="72.2" y="413" width="564.3" height="1.5" fill="url(#c23)"/>
<rect x="72.2" y="414" width="564.3" height="1.5" fill="url(#c24)"/>
<rect x="72.2" y="415" width="564.3" height="1.5" fill="url(#c25)"/>
<rect x="72.2" y="416" width="564.3" height="1.5" fill="url(#c26)"/>
<rect x="72.2" y="417" width="564.3" height="1.5" fill="url(#c27)"/>
<rect x="72.2" y="418" width="564.3" height="1.5" fill="url(#c28)"/>
<rect x="72.2" y="419" width="564.3" height="1.5" fill="url(#c29)"/>
<rect x="72.2" y="420" width="564.3" height="1.5" fill="url(#c30)"/>
<rect x="72.2" y="421" width="564.3" height="1.5" fill="url(#c31)"/>
<rect x="72.2" y="422" width="564.3" height="1.5" fill="url(#c32)"/>
<rect x="72.2" y="423" width="564.3" height="1.5" fill="url(#c33)"/>
<rect x="72.2" y="424" width="564.3" height="1.5" fill="url(#c34)"/>
<rect x="72.2" y="425" width="564.3" height="1.5" fill="url(#c35)"/>
<rect x="72.2" y="426" width="564.3" height="1.5" fill="url(#c36)"/>
<rect x="72.2" y="427" width="564.3" height="1.5" fill="url(#c37)"/>
<rect x="72.2" y="428" width="564.3" height="1.5" fill="url(#c38)"/>
<rect x="72.2" y="429" width="564.3" height="1.5" fill="url(#c39)"/>
<rect x="72.2" y="430" width="564.3" height="1.5" fill="url(#c40)"/>
<rect x="72.2" y="431" width="564.3" height="1.5" fill="url(#c41)"/>
<rect x="72.2" y="432" width="564.3" height="1.5" fill="url(#c42)"/>
<rect x="72.2" y="433" width="564.3" height="1.5" fill="url(#c43)"/>
<rect x="72.2" y="434" width="564.3" height="1.5" fill="url(#c44)"/>
<rect x="72.2" y="435" width="564.3" height="1.5" fill="url(#c45)"/>
<rect x="72.2" y="436" width="564.3" height="1.5" fill="url(#c46)"/>
<rect x="72.2" y="437" width="564.3" height="1.5" fill="url(#c47)"/>
<rect x="72.2" y="438" width="564.3" height="1.5" fill="url(#c48)"/>
<rect x="72.2" y="439" width="564.3" height="1.5" fill="url(#c49)"/>
<rect x="72.2" y="440" width="564.3" height="1.5" fill="url(#c50)"/>
<rect x="72.2" y="441" width="564.3" height="1.5" fill="url(#c51)"/>
<rect x="72.2" y="442" width="564.3" height="1.5" fill="url(#c52)"/>
<rect x="72.2" y="443" width="564.3" height="1.5" fill="url(#c53)"/>
<rect x="72.2" y="444" width="564.3" height="1.5" fill="url(#c54)"/>
<rect x="72.2" y="445" width="564.3" height="1.5" fill="url(#c55)"/>
<rect x="72.2" y="446" width="564.3" height="1.5" fill="url(#c56)"/>
<rect x="72.2" y="447" width="564.3" height="1.5" fill="url(#c57)"/>
<rect x="72.2" y="448" width="564.3" height="1.5" fill="url(#c58)"/>
<rect x="72.2" y="449" width="564.3" height="1.5" fill="url(#c59)"/>
<rect x="72.2" y="450" width="564.3" height="1.5" fill="url(#c60)"/>
<rect x="72.2" y="451" width="564.3" height="1.5" fill="url(#c61)"/>
<rect x="72.2" y="452" width="564.3" height="1.5" fill="url(#c62)"/>
<rect x="72.2" y="453" width="564.3" height="1.5" fill="url(#c63)"/>
<rect x="72.2" y="454" width="564.3" height="1.5" fill="url(#c64)"/>
<rect x="72.2" y="455" width="564.3" height="1.5" fill="url(#c65)"/>
<rect x="72.2" y="456" width="564.3" height="1.5" fill="url(#c66)"/>
<rect x="72.2" y="457" width="564.3" height="1.5" fill="url(#c67)"/>
<rect x="72.2" y="458" width="564.3" height="1.5" fill="url(#c68)"/>
<rect x="72.2" y="459" width="564.3" height="1.5" fill="url(#c69)"/>
<rect x="72.2" y="460" width="564.3" height="1.5" fill="url(#c70)"/>
<rect x="72.2" y="461" width="564.3" height="1.5" fill="url(#c71)"/>
<rect x="72.2" y="462" width="564.3" height="1.5" fill="url(#c72)"/>
<rect x="72.2" y="463" width="564.3" height="1.5" fill="url(#c73)"/>
<rect x="72.2" y="464" width="564.3" height="1.5" fill="url(#c74)"/>
<rect x="72.2" y="465" width="564.3" height="1.5" fill="url(#c75)"/>
<rect x="72.2" y="466" width="564.3" height="1.5" fill="url(#c76)"/>
<rect x="72.2" y="467" width="564.3" height="1.5" fill="url(#c77)"/>
<rect x="72.2" y="468" width="564.3" height="1.5" fill="url(#c78)"/>
<rect x="72.2" y="469" width="564.3" height="1.5" fill="url(#c79)"/>
<rect x="72.2" y="470" width="564.3" height="1.5" fill="url(#c80)"/>
<rect x="72.2" y="471" width="564.3" height="1.5" fill="url(#c81)"/>
<rect x="72.2" y="472" width="564.3" height="1.5" fill="url(#c82)"/>
<rect x="72.2" y="473" width="564.3" height="1.5" fill="url(#c83)"/>
<rect x="72.2" y="474" width="564.3" height="1.5" fill="url(#c84)"/>
<rect x="72.2" y="475" width="564.3" height="1.5" fill="url(#c85)"/>
<rect x="72.2" y="476" width="564.3" height="1.5" fill="url(#c86)"/>
<rect x="72.2" y="477" width="564.3" height="1.5" fill="url(#c87)"/>
<rect x="72.2" y="478" width="564.3" height="1.5" fill="url(#c88)"/>
<rect x="72.2" y="479" width="564.3" height="1.5" fill="url(#c89)"/>
<rect x="72.2" y="480" width="564.3" height="1.5" fill="url(#c90)"/>
<rect x="72.2" y="481" width="564.3" height="1.5" fill="url(#c91)"/>
<rect x="72.2" y="482" width="564.3" height="1.5" fill="url(#c92)"/>
<rect x="72.2" y="483" width="564.3" height="1.5" fill="url(#c93)"/>
<rect x="72.2" y="484" width="564.3" height="1.5" fill="url(#c94)"/>
<rect x="72.2" y="485" width="564.3" height="1.5" fill="url(#c95)"/>
<rect x="72.2" y="486" width="564.3" height="1.5" fill="url(#c96)"/>
<rect x="72.2" y="487" width="564.3" height="1.5" fill="url(#c97)"/>
<rect x="72.2" y="488" width="564.3" height="1.5" fill="url(#c98)"/>
<rect x="72.2" y="489" width="564.3" height="1.5" fill="url(#c99)"/>
<rect x="72.2" y="490" width="564.3" height="1.5" fill="url(#c100)"/>
<rect x="72.2" y="491" width="564.3" height="1.5" fill="url(#c101)"/>
<rect x="72.2" y="492" width="564.3" height="1.5" fill="url(#c102)"/>
<rect x="72.2" y="493" width="564.3" height="1.5" fill="url(#c103)"/>
<rect x="72.2" y="494" width="564.3" height="1.5" fill="url(#c104)"/>
<rect x="72.2" y="495" width="564.3" height="1.5" fill="url(#c105)"/>
<rect x="72.2" y="496" width="564.3" height="1.5" fill="url(#c106)"/>
<rect x="72.2" y="497" width="564.3" height="1.5" fill="url(#c107)"/>
<rect x="72.2" y="498" width="564.3" height="1.5" fill="url(#c108)"/>
<rect x="72.2" y="499" width="564.3" height="1.5" fill="url(#c109)"/>
<rect x="72.2" y="500" width="564.3" height="1.5" fill="url(#c110)"/>
<rect x="72.2" y="501" width="564.3" height="1.5" fill="url(#c111)"/>
<rect x="72.2" y="502" width="564.3" height="1.5" fill="url(#c112)"/>
<rect x="72.2" y="503" width="564.3" height="1.5" fill="url(#c113)"/>
<rect x="72.2" y="504" width="564.3" height="1.5" fill="url(#c114)"/>
<rect x="72.2" y="505" width="564.3" height="1.5" fill="url(#c115)"/>
<rect x="72.2" y="506" width="564.3" height="1.5" fill="#3f53c6"/>
<rect x="72.2" y="507" width="564.3" height="1.5" fill="#3f53c6"/>
<rect x="72.2" y="508" width="564.3" height="1.5" fill="#3e51c5"/>
<rect x="72.2" y="509" width="564.3" height="1.5" fill="#3e51c5"/>
<rect x="72.2" y="510" width="564.3" height="1.5" fill="#3e51c5"/>
<rect x="72.2" y="511" width="564.3" height="1.5" fill="#3e51c5"/>
<rect x="72.2" y="512" width="564.3" height="1.5" fill="#3e51c5"/>
<rect x="72.2" y="513" width="564.3" height="1.5" fill="#3e51c5"/>
<rect x="72.2" y="514" width="564.3" height="1.5" fill="#3e51c5"/>
<rect x="72.2" y="515" width="564.3" height="1.5" fill="#3e51c5"/>
<rect x="72.2" y="516" width="564.3" height="1.5" fill="#3e51c5"/>
<rect x="72.2" y="517" width="564.3" height="1.5" fill="#3e51c5"/>
<rect x="72.2" y="518" width="564.3" height="1.5" fill="#3e51c5"/>
<rect x="72.2" y="519" width="564.3" height="1.5" fill="#3e51c5"/>
<rect x="72.2" y="520" width="564.3" height="1.5" fill="#3e51c5"/>
<rect x="72.2" y="521" width="564.3" height="1.5" fill="#3e51c5"/>
<rect x="72.2" y="522" width="564.3" height="1.5" fill="#3e51c5"/>
</g>
<path d="M72.5 491.9H636.5" stroke="#fff" stroke-opacity="0.035" stroke-width="1.4" fill="none"/>
<path d="M72.5 508.7H636.5" stroke="#fff" stroke-opacity="0.07" stroke-width="2.2" fill="none"/>
<path d="M72.5 513.6H636.5" stroke="#fff" stroke-opacity="0.04" stroke-width="1.6" fill="none"/>
<path d="M72.5 517.3H636.5" stroke="#fff" stroke-opacity="0.05" stroke-width="1.6" fill="none"/>
<path d="M72.5 521.7H636.5" stroke="#d8dff3" stroke-opacity="0.85" stroke-width="0.9" fill="none"/>
<path d="M72.5 522.7H636.5" stroke="#6e7078" stroke-width="0.7" fill="none"/>
<path d="M128.90 523.0v-2.2M185.30 523.0v-2.2M241.70 523.0v-2.2M298.10 523.0v-2.2M354.50 523.0v-2.2M410.90 523.0v-2.2M467.30 523.0v-2.2M523.70 523.0v-2.2M580.10 523.0v-2.2" stroke="#262626" stroke-width="0.8" fill="none"/>
<g font-family="Liberation Sans, Arial, sans-serif" font-size="14.2" fill="#262626" stroke="#262626" stroke-width="0.2" text-anchor="middle">
<text transform="translate(71.7,543.5) scale(1,1.045)">0</text>
<text transform="translate(128.8,543.5) scale(1,1.045)">0.05</text>
<text transform="translate(185.2,543.5) scale(1,1.045)">0.1</text>
<text transform="translate(241.6,543.5) scale(1,1.045)">0.15</text>
<text transform="translate(298.0,543.5) scale(1,1.045)">0.2</text>
<text transform="translate(354.4,543.5) scale(1,1.045)">0.25</text>
<text transform="translate(410.8,543.5) scale(1,1.045)">0.3</text>
<text transform="translate(467.2,543.5) scale(1,1.045)">0.35</text>
<text transform="translate(523.6,543.5) scale(1,1.045)">0.4</text>
<text transform="translate(580.0,543.5) scale(1,1.045)">0.45</text>
<text transform="translate(636.4,543.5) scale(1,1.045)">0.5</text>
</g>
<g font-family="Liberation Sans, Arial, sans-serif" font-size="14.2" fill="#262626" stroke="#262626" stroke-width="0.2" text-anchor="end">
<text transform="translate(66.4,528.9) scale(1,1.045)">0</text>
<text transform="translate(66.4,462.5) scale(1,1.045)">50</text>
<text transform="translate(66.4,395.7) scale(1,1.045)">100</text>
</g>
<text transform="translate(36.0,456.84999999999997) rotate(-90) scale(1.012,0.955)" font-family="Liberation Sans, Arial, sans-serif" font-weight="bold" font-size="15.6" fill="#262626" text-anchor="middle">Frequency (Hz)</text>
<text transform="translate(4.6,384.3) scale(1.04,1)" font-family="Liberation Serif, Times New Roman, serif" font-weight="bold" font-size="22" fill="#0a0a0a" stroke="#0a0a0a" stroke-width="0.3">(c)</text>
<text x="621.6" y="414.9" font-family="Liberation Serif, Times New Roman, serif" font-weight="bold" font-size="20.5" fill="#fff" stroke="#fff" stroke-width="0.25" text-anchor="end">CWT</text>
<rect x="646.6999999999999" y="390.3" width="14.0" height="132.7" fill="url(#cb)" stroke="#262626" stroke-width="0.6"/>
<g font-family="Liberation Sans, Arial, sans-serif" font-size="13.3" fill="#262626" stroke="#262626" stroke-width="0.2">
<text transform="translate(664.9,395.6) scale(1,1.08)">1</text>
<text transform="translate(664.9,422.4) scale(1,1.08)">0.8</text>
<text transform="translate(664.9,449.2) scale(1,1.08)">0.6</text>
<text transform="translate(664.9,476.0) scale(1,1.08)">0.4</text>
<text transform="translate(664.9,502.8) scale(1,1.08)">0.2</text>
</g>
<text transform="translate(354.3,564.3) scale(1.012,0.955)" font-family="Liberation Sans, Arial, sans-serif" font-weight="bold" font-size="15.6" fill="#262626" text-anchor="middle">Time (s)</text>
</g>
</svg></body></html>
